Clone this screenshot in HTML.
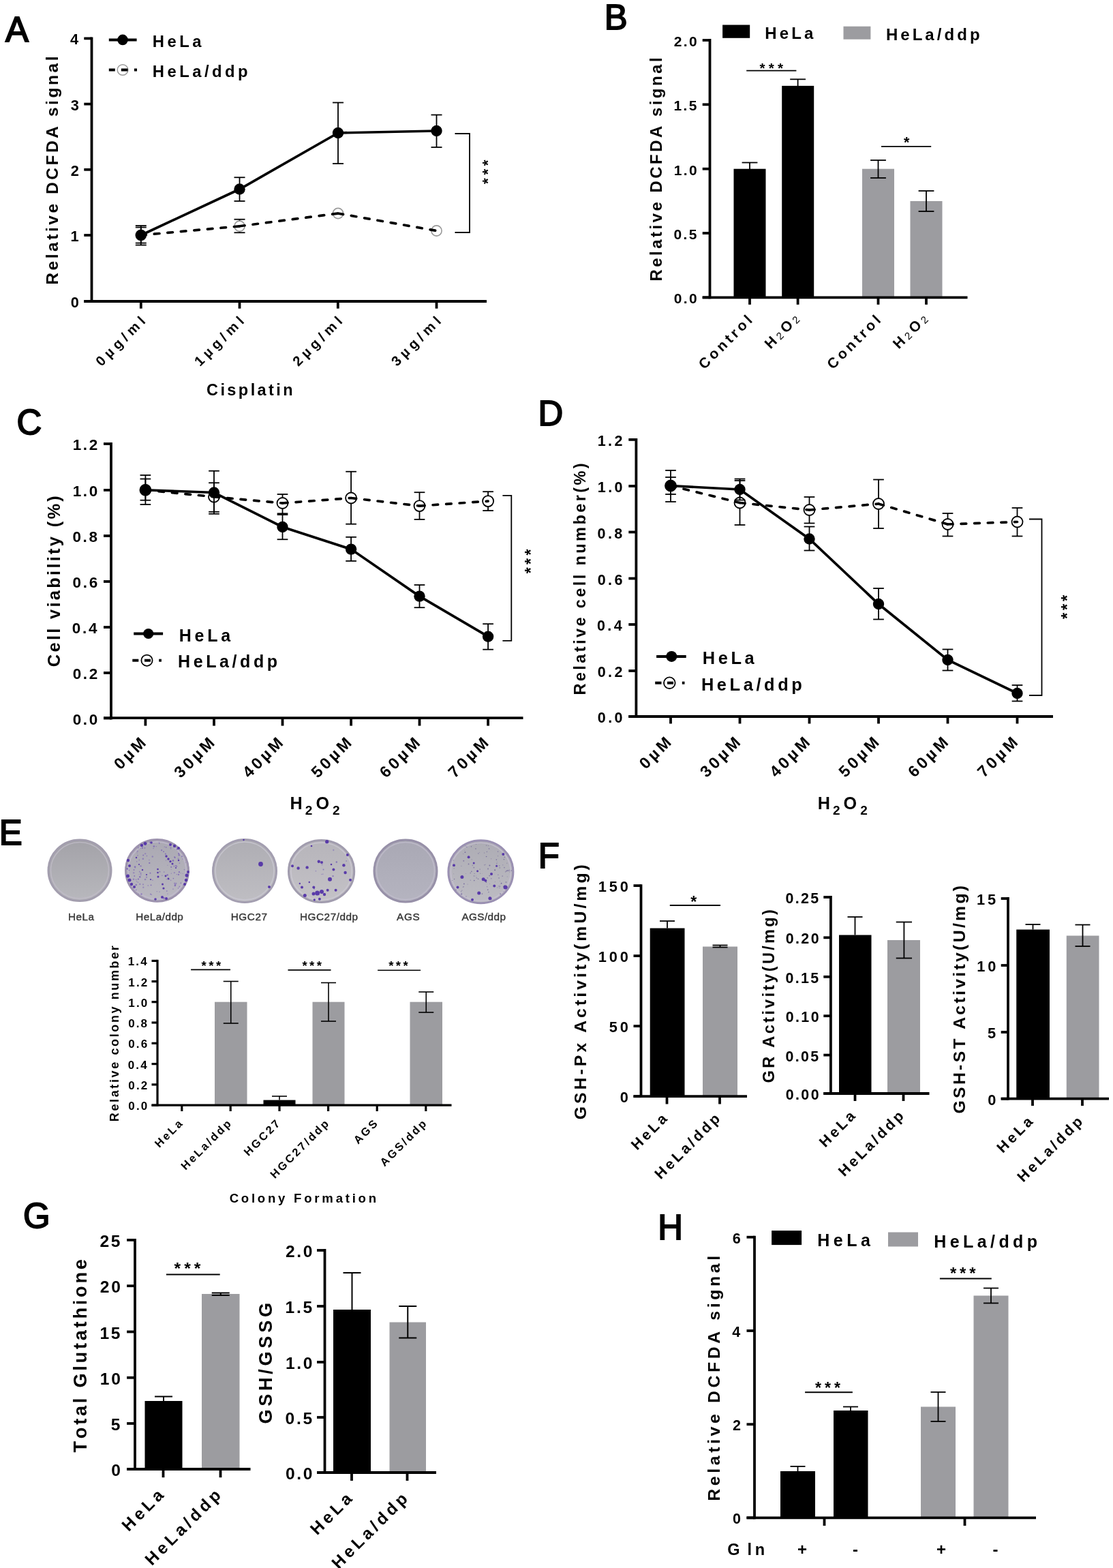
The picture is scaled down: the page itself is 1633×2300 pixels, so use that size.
<!DOCTYPE html>
<html><head><meta charset="utf-8"><title>Figure</title><style>html,body{margin:0;padding:0;background:#fff;}svg{display:block;}svg text{font-family:"Liberation Sans",Arial,Helvetica,sans-serif;font-weight:bold;fill:#000;font-kerning:none;}</style></head><body>
<svg width="1633" height="2300" viewBox="0 0 1633 2300">
<rect width="1633" height="2300" fill="#fff"/>
<text x="8.05" y="61.12" font-size="50.9" style="font-weight:normal" stroke="#000" stroke-width="1.9">A</text>
<line x1="134.5" y1="54.5" x2="134.5" y2="443.9" stroke="#000" stroke-width="3.8"/>
<line x1="123.3" y1="56.4" x2="134.5" y2="56.4" stroke="#000" stroke-width="3.8"/>
<line x1="123.3" y1="152.6" x2="134.5" y2="152.6" stroke="#000" stroke-width="3.8"/>
<line x1="123.3" y1="248.8" x2="134.5" y2="248.8" stroke="#000" stroke-width="3.8"/>
<line x1="123.3" y1="345" x2="134.5" y2="345" stroke="#000" stroke-width="3.8"/>
<line x1="123.3" y1="442" x2="134.5" y2="442" stroke="#000" stroke-width="3.8"/>
<text x="103.09" y="65.4" font-size="21.8" letter-spacing="2.5">4</text>
<text x="103.76" y="161.6" font-size="21.8" letter-spacing="2.5">3</text>
<text x="103.85" y="257.8" font-size="21.8" letter-spacing="2.5">2</text>
<text x="103.59" y="354" font-size="21.8" letter-spacing="2.5">1</text>
<text x="103.87" y="451" font-size="21.8" letter-spacing="2.5">0</text>
<line x1="123.3" y1="442" x2="714" y2="442" stroke="#000" stroke-width="3.8"/>
<line x1="206.8" y1="442" x2="206.8" y2="452.6" stroke="#000" stroke-width="3.8"/>
<line x1="351.5" y1="442" x2="351.5" y2="452.6" stroke="#000" stroke-width="3.8"/>
<line x1="495.8" y1="442" x2="495.8" y2="452.6" stroke="#000" stroke-width="3.8"/>
<line x1="640.5" y1="442" x2="640.5" y2="452.6" stroke="#000" stroke-width="3.8"/>
<text x="148.75" y="538.25" font-size="20.3" transform="rotate(-45 148.75 538.25)" letter-spacing="5.66">0µg/ml</text>
<text x="293.45" y="538.25" font-size="20.3" transform="rotate(-45 293.45 538.25)" letter-spacing="5.66">1µg/ml</text>
<text x="437.75" y="538.25" font-size="20.3" transform="rotate(-45 437.75 538.25)" letter-spacing="5.66">2µg/ml</text>
<text x="582.45" y="538.25" font-size="20.3" transform="rotate(-45 582.45 538.25)" letter-spacing="5.66">3µg/ml</text>
<text x="303.04" y="579.8" font-size="23.5" letter-spacing="3.42">Cisplatin</text>
<text x="85.4" y="417.65" font-size="24.6" transform="rotate(-90 85.4 417.65)" letter-spacing="3.5">Relative DCFDA signal</text>
<line x1="351.5" y1="321.75" x2="351.5" y2="341.25" stroke="#000" stroke-width="1.8"/>
<line x1="343.5" y1="321.75" x2="359.5" y2="321.75" stroke="#000" stroke-width="1.8"/>
<line x1="343.5" y1="341.25" x2="359.5" y2="341.25" stroke="#000" stroke-width="1.8"/>
<line x1="206.8" y1="333.5" x2="206.8" y2="356.5" stroke="#000" stroke-width="1.8"/>
<line x1="198.8" y1="333.5" x2="214.8" y2="333.5" stroke="#000" stroke-width="1.8"/>
<line x1="198.8" y1="356.5" x2="214.8" y2="356.5" stroke="#000" stroke-width="1.8"/>
<circle cx="206.8" cy="345" r="7.6" fill="#fff" stroke="#9a9a9a" stroke-width="1.6"/>
<circle cx="351.5" cy="331.75" r="7.6" fill="#fff" stroke="#9a9a9a" stroke-width="1.6"/>
<circle cx="496" cy="313" r="7.6" fill="#fff" stroke="#9a9a9a" stroke-width="1.6"/>
<circle cx="640.5" cy="338.5" r="7.6" fill="#fff" stroke="#9a9a9a" stroke-width="1.6"/>
<line x1="206.8" y1="345" x2="351.5" y2="331.75" stroke="#000" stroke-width="3.7" stroke-dasharray="7.6 12" stroke-linecap="round"/>
<line x1="351.5" y1="331.75" x2="496" y2="313" stroke="#000" stroke-width="3.7" stroke-dasharray="7.6 12" stroke-linecap="round"/>
<line x1="496" y1="313" x2="640.5" y2="338.5" stroke="#000" stroke-width="3.7" stroke-dasharray="7.6 12" stroke-linecap="round"/>
<polyline points="206.8,345 351.5,277.5 496,195 640.5,192" fill="none" stroke="#000" stroke-width="3.7"/>
<line x1="206.8" y1="331" x2="206.8" y2="359.5" stroke="#000" stroke-width="1.8"/>
<line x1="198.8" y1="331" x2="214.8" y2="331" stroke="#000" stroke-width="1.8"/>
<line x1="198.8" y1="359.5" x2="214.8" y2="359.5" stroke="#000" stroke-width="1.8"/>
<circle cx="206.8" cy="345" r="8.2" fill="#000"/>
<line x1="351.5" y1="260.25" x2="351.5" y2="295" stroke="#000" stroke-width="1.8"/>
<line x1="343.5" y1="260.25" x2="359.5" y2="260.25" stroke="#000" stroke-width="1.8"/>
<line x1="343.5" y1="295" x2="359.5" y2="295" stroke="#000" stroke-width="1.8"/>
<circle cx="351.5" cy="277.5" r="8.2" fill="#000"/>
<line x1="496" y1="150.5" x2="496" y2="240" stroke="#000" stroke-width="1.8"/>
<line x1="488" y1="150.5" x2="504" y2="150.5" stroke="#000" stroke-width="1.8"/>
<line x1="488" y1="240" x2="504" y2="240" stroke="#000" stroke-width="1.8"/>
<circle cx="496" cy="195" r="8.2" fill="#000"/>
<line x1="640.5" y1="168.5" x2="640.5" y2="216" stroke="#000" stroke-width="1.8"/>
<line x1="632.5" y1="168.5" x2="648.5" y2="168.5" stroke="#000" stroke-width="1.8"/>
<line x1="632.5" y1="216" x2="648.5" y2="216" stroke="#000" stroke-width="1.8"/>
<circle cx="640.5" cy="192" r="8.2" fill="#000"/>
<line x1="159.8" y1="58.4" x2="200.6" y2="58.4" stroke="#000" stroke-width="4"/>
<circle cx="180" cy="58.4" r="7.8" fill="#000"/>
<text x="223.81" y="69" font-size="23.8" letter-spacing="4.49">HeLa</text>
<circle cx="180" cy="102.5" r="7.8" fill="#fff" stroke="#9a9a9a" stroke-width="1.5"/>
<line x1="159.8" y1="102.5" x2="168.8" y2="102.5" stroke="#000" stroke-width="4"/>
<line x1="177.8" y1="102.5" x2="187.5" y2="102.5" stroke="#000" stroke-width="4"/>
<line x1="196.9" y1="102.5" x2="201" y2="102.5" stroke="#000" stroke-width="4"/>
<text x="223.81" y="113.3" font-size="23.8" letter-spacing="4.49">HeLa/ddp</text>
<polyline points="667.5,196 689,196 689,341 667.5,341" fill="none" stroke="#000" stroke-width="1.8"/>
<text x="722.85" y="269.97" font-size="22.31" transform="rotate(-90 722.85 269.97)" letter-spacing="4.72">***</text>
<text x="886.68" y="43.42" font-size="50.9" style="font-weight:normal" stroke="#000" stroke-width="1.9">B</text>
<line x1="1041.5" y1="57.1" x2="1041.5" y2="438.2" stroke="#000" stroke-width="3.8"/>
<line x1="1030.7" y1="59" x2="1041.5" y2="59" stroke="#000" stroke-width="3.8"/>
<line x1="1030.7" y1="153.3" x2="1041.5" y2="153.3" stroke="#000" stroke-width="3.8"/>
<line x1="1030.7" y1="247.7" x2="1041.5" y2="247.7" stroke="#000" stroke-width="3.8"/>
<line x1="1030.7" y1="342" x2="1041.5" y2="342" stroke="#000" stroke-width="3.8"/>
<line x1="1030.7" y1="436.3" x2="1041.5" y2="436.3" stroke="#000" stroke-width="3.8"/>
<text x="988.67" y="68.1" font-size="21" letter-spacing="2.45">2.0</text>
<text x="988.4" y="162.4" font-size="21" letter-spacing="2.45">1.5</text>
<text x="988.67" y="256.8" font-size="21" letter-spacing="2.45">1.0</text>
<text x="988.4" y="351.1" font-size="21" letter-spacing="2.45">0.5</text>
<text x="988.67" y="445.4" font-size="21" letter-spacing="2.45">0.0</text>
<rect x="1076.5" y="247.7" width="47" height="188.6" fill="#000"/>
<rect x="1147.2" y="125.9" width="47" height="310.4" fill="#000"/>
<rect x="1265" y="247.7" width="47" height="188.6" fill="#9c9ca0"/>
<rect x="1335.5" y="295" width="47" height="141.3" fill="#9c9ca0"/>
<line x1="1030.7" y1="436.3" x2="1419.5" y2="436.3" stroke="#000" stroke-width="3.8"/>
<line x1="1100" y1="436.3" x2="1100" y2="446.8" stroke="#000" stroke-width="3.8"/>
<line x1="1170.6" y1="436.3" x2="1170.6" y2="446.8" stroke="#000" stroke-width="3.8"/>
<line x1="1288.5" y1="436.3" x2="1288.5" y2="446.8" stroke="#000" stroke-width="3.8"/>
<line x1="1359" y1="436.3" x2="1359" y2="446.8" stroke="#000" stroke-width="3.8"/>
<line x1="1100" y1="238.5" x2="1100" y2="248" stroke="#000" stroke-width="1.8"/>
<line x1="1088.6" y1="238.5" x2="1111.4" y2="238.5" stroke="#000" stroke-width="1.8"/>
<line x1="1170.6" y1="116.3" x2="1170.6" y2="126" stroke="#000" stroke-width="1.8"/>
<line x1="1159.2" y1="116.3" x2="1182" y2="116.3" stroke="#000" stroke-width="1.8"/>
<line x1="1288.5" y1="235" x2="1288.5" y2="261" stroke="#000" stroke-width="1.8"/>
<line x1="1277.1" y1="235" x2="1299.9" y2="235" stroke="#000" stroke-width="1.8"/>
<line x1="1277.1" y1="261" x2="1299.9" y2="261" stroke="#000" stroke-width="1.8"/>
<line x1="1359" y1="280" x2="1359" y2="310" stroke="#000" stroke-width="1.8"/>
<line x1="1347.6" y1="280" x2="1370.4" y2="280" stroke="#000" stroke-width="1.8"/>
<line x1="1347.6" y1="310" x2="1370.4" y2="310" stroke="#000" stroke-width="1.8"/>
<line x1="1095.2" y1="103.7" x2="1168.4" y2="103.7" stroke="#000" stroke-width="1.8"/>
<text x="1114.54" y="106.54" font-size="20.7" letter-spacing="5.16">***</text>
<line x1="1293" y1="214.8" x2="1366.2" y2="214.8" stroke="#000" stroke-width="1.8"/>
<text x="1325.94" y="215.9" font-size="21.51">*</text>
<rect x="1060.1" y="36.5" width="40.1" height="19.3" fill="#000"/>
<text x="1122.29" y="56.8" font-size="24" letter-spacing="4.13">HeLa</text>
<rect x="1237.5" y="38.7" width="39.9" height="19" fill="#9c9ca0"/>
<text x="1299.89" y="58.6" font-size="24" letter-spacing="4.05">HeLa/ddp</text>
<text x="970.7" y="412.51" font-size="24" transform="rotate(-90 970.7 412.51)" letter-spacing="3.47">Relative DCFDA signal</text>
<text x="1033.39" y="542.74" font-size="21.2" transform="rotate(-45 1033.39 542.74)" letter-spacing="4.32">Control</text>
<text x="1221.89" y="542.74" font-size="21.2" transform="rotate(-45 1221.89 542.74)" letter-spacing="4.32">Control</text>
<text x="1130.48" y="512.66" font-size="21.2" transform="rotate(-45 1130.48 512.66)" letter-spacing="4.32">H<tspan font-size="15" font-weight="normal" dy="0.8">2</tspan><tspan dy="-0.8">O</tspan><tspan font-size="15" font-weight="normal" dy="0.8">2</tspan></text>
<text x="1318.88" y="512.66" font-size="21.2" transform="rotate(-45 1318.88 512.66)" letter-spacing="4.32">H<tspan font-size="15" font-weight="normal" dy="0.8">2</tspan><tspan dy="-0.8">O</tspan><tspan font-size="15" font-weight="normal" dy="0.8">2</tspan></text>
<text x="24.45" y="636.52" font-size="50.9" style="font-weight:normal" stroke="#000" stroke-width="1.9">C</text>
<line x1="163" y1="649.1" x2="163" y2="1055.4" stroke="#000" stroke-width="3.8"/>
<line x1="152" y1="651" x2="163" y2="651" stroke="#000" stroke-width="3.8"/>
<line x1="152" y1="718.9" x2="163" y2="718.9" stroke="#000" stroke-width="3.8"/>
<line x1="152" y1="786" x2="163" y2="786" stroke="#000" stroke-width="3.8"/>
<line x1="152" y1="853" x2="163" y2="853" stroke="#000" stroke-width="3.8"/>
<line x1="152" y1="920" x2="163" y2="920" stroke="#000" stroke-width="3.8"/>
<line x1="152" y1="987" x2="163" y2="987" stroke="#000" stroke-width="3.8"/>
<line x1="152" y1="1053.5" x2="163" y2="1053.5" stroke="#000" stroke-width="3.8"/>
<text x="106.63" y="660" font-size="22.5" letter-spacing="2.7">1.2</text>
<text x="106.65" y="727.9" font-size="22.5" letter-spacing="2.7">1.0</text>
<text x="106.42" y="795" font-size="22.5" letter-spacing="2.7">0.8</text>
<text x="106.54" y="862" font-size="22.5" letter-spacing="2.7">0.6</text>
<text x="105.84" y="929" font-size="22.5" letter-spacing="2.7">0.4</text>
<text x="106.63" y="996" font-size="22.5" letter-spacing="2.7">0.2</text>
<text x="106.65" y="1062.5" font-size="22.5" letter-spacing="2.7">0.0</text>
<line x1="152" y1="1053.2" x2="767.5" y2="1053.2" stroke="#000" stroke-width="3.8"/>
<line x1="213.4" y1="1053.2" x2="213.4" y2="1064.6" stroke="#000" stroke-width="3.8"/>
<line x1="314" y1="1053.2" x2="314" y2="1064.6" stroke="#000" stroke-width="3.8"/>
<line x1="414.5" y1="1053.2" x2="414.5" y2="1064.6" stroke="#000" stroke-width="3.8"/>
<line x1="515.1" y1="1053.2" x2="515.1" y2="1064.6" stroke="#000" stroke-width="3.8"/>
<line x1="615.5" y1="1053.2" x2="615.5" y2="1064.6" stroke="#000" stroke-width="3.8"/>
<line x1="716.1" y1="1053.2" x2="716.1" y2="1064.6" stroke="#000" stroke-width="3.8"/>
<text x="176.78" y="1129.99" font-size="23.5" transform="rotate(-45 176.78 1129.99)" letter-spacing="4.26">0µM</text>
<text x="265.13" y="1142.24" font-size="23.5" transform="rotate(-45 265.13 1142.24)" letter-spacing="4.26">30µM</text>
<text x="365.63" y="1142.24" font-size="23.5" transform="rotate(-45 365.63 1142.24)" letter-spacing="4.26">40µM</text>
<text x="466.23" y="1142.24" font-size="23.5" transform="rotate(-45 466.23 1142.24)" letter-spacing="4.26">50µM</text>
<text x="566.63" y="1142.24" font-size="23.5" transform="rotate(-45 566.63 1142.24)" letter-spacing="4.26">60µM</text>
<text x="667.23" y="1142.24" font-size="23.5" transform="rotate(-45 667.23 1142.24)" letter-spacing="4.26">70µM</text>
<text x="425.61" y="1186.8" font-size="25.2">H<tspan font-size="19" dx="4" dy="8.3">2</tspan><tspan dx="5" dy="-8.3">O</tspan><tspan font-size="19" dx="5" dy="8.3">2</tspan></text>
<text x="87.8" y="978.15" font-size="25.5" transform="rotate(-90 87.8 978.15)" letter-spacing="3.26">Cell viability (%)</text>
<line x1="213.4" y1="702.5" x2="213.4" y2="733.75" stroke="#000" stroke-width="1.8"/>
<line x1="205.55" y1="702.5" x2="221.25" y2="702.5" stroke="#000" stroke-width="1.8"/>
<line x1="205.55" y1="733.75" x2="221.25" y2="733.75" stroke="#000" stroke-width="1.8"/>
<line x1="314" y1="708.25" x2="314" y2="750.75" stroke="#000" stroke-width="1.8"/>
<line x1="306.15" y1="708.25" x2="321.85" y2="708.25" stroke="#000" stroke-width="1.8"/>
<line x1="306.15" y1="750.75" x2="321.85" y2="750.75" stroke="#000" stroke-width="1.8"/>
<line x1="414.5" y1="725" x2="414.5" y2="753.25" stroke="#000" stroke-width="1.8"/>
<line x1="406.65" y1="725" x2="422.35" y2="725" stroke="#000" stroke-width="1.8"/>
<line x1="406.65" y1="753.25" x2="422.35" y2="753.25" stroke="#000" stroke-width="1.8"/>
<line x1="515.1" y1="691.75" x2="515.1" y2="768.7" stroke="#000" stroke-width="1.8"/>
<line x1="507.25" y1="691.75" x2="522.95" y2="691.75" stroke="#000" stroke-width="1.8"/>
<line x1="507.25" y1="768.7" x2="522.95" y2="768.7" stroke="#000" stroke-width="1.8"/>
<line x1="615.5" y1="722.2" x2="615.5" y2="761.9" stroke="#000" stroke-width="1.8"/>
<line x1="607.65" y1="722.2" x2="623.35" y2="722.2" stroke="#000" stroke-width="1.8"/>
<line x1="607.65" y1="761.9" x2="623.35" y2="761.9" stroke="#000" stroke-width="1.8"/>
<line x1="716.1" y1="721.2" x2="716.1" y2="749" stroke="#000" stroke-width="1.8"/>
<line x1="708.25" y1="721.2" x2="723.95" y2="721.2" stroke="#000" stroke-width="1.8"/>
<line x1="708.25" y1="749" x2="723.95" y2="749" stroke="#000" stroke-width="1.8"/>
<circle cx="213.4" cy="718.75" r="8" fill="#fff" stroke="#000" stroke-width="1.8"/>
<circle cx="314" cy="728.75" r="8" fill="#fff" stroke="#000" stroke-width="1.8"/>
<circle cx="414.5" cy="738" r="8" fill="#fff" stroke="#000" stroke-width="1.8"/>
<circle cx="515.1" cy="730.5" r="8" fill="#fff" stroke="#000" stroke-width="1.8"/>
<circle cx="615.5" cy="742.1" r="8" fill="#fff" stroke="#000" stroke-width="1.8"/>
<circle cx="716.1" cy="735.1" r="8" fill="#fff" stroke="#000" stroke-width="1.8"/>
<line x1="213.4" y1="718.75" x2="314" y2="728.75" stroke="#000" stroke-width="3.7" stroke-dasharray="7.6 12" stroke-linecap="round"/>
<line x1="314" y1="728.75" x2="414.5" y2="738" stroke="#000" stroke-width="3.7" stroke-dasharray="7.6 12" stroke-linecap="round"/>
<line x1="414.5" y1="738" x2="515.1" y2="730.5" stroke="#000" stroke-width="3.7" stroke-dasharray="7.6 12" stroke-linecap="round"/>
<line x1="515.1" y1="730.5" x2="615.5" y2="742.1" stroke="#000" stroke-width="3.7" stroke-dasharray="7.6 12" stroke-linecap="round"/>
<line x1="615.5" y1="742.1" x2="716.1" y2="735.1" stroke="#000" stroke-width="3.7" stroke-dasharray="7.6 12" stroke-linecap="round"/>
<polyline points="213.4,718.75 314,722.5 414.5,773 515.1,805.6 615.5,874.6 716.1,933.7" fill="none" stroke="#000" stroke-width="3.7"/>
<line x1="213.4" y1="697" x2="213.4" y2="740" stroke="#000" stroke-width="1.8"/>
<line x1="205.55" y1="697" x2="221.25" y2="697" stroke="#000" stroke-width="1.8"/>
<line x1="205.55" y1="740" x2="221.25" y2="740" stroke="#000" stroke-width="1.8"/>
<circle cx="213.4" cy="718.75" r="8.2" fill="#000"/>
<line x1="314" y1="690.75" x2="314" y2="753.75" stroke="#000" stroke-width="1.8"/>
<line x1="306.15" y1="690.75" x2="321.85" y2="690.75" stroke="#000" stroke-width="1.8"/>
<line x1="306.15" y1="753.75" x2="321.85" y2="753.75" stroke="#000" stroke-width="1.8"/>
<circle cx="314" cy="722.5" r="8.2" fill="#000"/>
<line x1="414.5" y1="755" x2="414.5" y2="791.25" stroke="#000" stroke-width="1.8"/>
<line x1="406.65" y1="755" x2="422.35" y2="755" stroke="#000" stroke-width="1.8"/>
<line x1="406.65" y1="791.25" x2="422.35" y2="791.25" stroke="#000" stroke-width="1.8"/>
<circle cx="414.5" cy="773" r="8.2" fill="#000"/>
<line x1="515.1" y1="787.8" x2="515.1" y2="822.9" stroke="#000" stroke-width="1.8"/>
<line x1="507.25" y1="787.8" x2="522.95" y2="787.8" stroke="#000" stroke-width="1.8"/>
<line x1="507.25" y1="822.9" x2="522.95" y2="822.9" stroke="#000" stroke-width="1.8"/>
<circle cx="515.1" cy="805.6" r="8.2" fill="#000"/>
<line x1="615.5" y1="858" x2="615.5" y2="891.2" stroke="#000" stroke-width="1.8"/>
<line x1="607.65" y1="858" x2="623.35" y2="858" stroke="#000" stroke-width="1.8"/>
<line x1="607.65" y1="891.2" x2="623.35" y2="891.2" stroke="#000" stroke-width="1.8"/>
<circle cx="615.5" cy="874.6" r="8.2" fill="#000"/>
<line x1="716.1" y1="915.2" x2="716.1" y2="952.7" stroke="#000" stroke-width="1.8"/>
<line x1="708.25" y1="915.2" x2="723.95" y2="915.2" stroke="#000" stroke-width="1.8"/>
<line x1="708.25" y1="952.7" x2="723.95" y2="952.7" stroke="#000" stroke-width="1.8"/>
<circle cx="716.1" cy="933.7" r="8.2" fill="#000"/>
<line x1="196.2" y1="929.5" x2="239.1" y2="929.5" stroke="#000" stroke-width="4"/>
<circle cx="217.7" cy="929.5" r="7.6" fill="#000"/>
<text x="262.82" y="940.6" font-size="25" letter-spacing="4.73">HeLa</text>
<circle cx="215.5" cy="968.7" r="8.1" fill="#fff" stroke="#000" stroke-width="1.8"/>
<line x1="194.3" y1="968.7" x2="203.3" y2="968.7" stroke="#000" stroke-width="4"/>
<line x1="212" y1="968.7" x2="221" y2="968.7" stroke="#000" stroke-width="4"/>
<line x1="233.2" y1="968.7" x2="236.9" y2="968.7" stroke="#000" stroke-width="4"/>
<text x="261.02" y="979" font-size="25" letter-spacing="4.59">HeLa/ddp</text>
<polyline points="737.4,726.8 750.3,726.8 750.3,939.8 737.4,939.8" fill="none" stroke="#000" stroke-width="1.8"/>
<text x="786.69" y="841.37" font-size="23.39" transform="rotate(-90 786.69 841.37)" letter-spacing="4.4">***</text>
<text x="789.58" y="624.42" font-size="50.9" style="font-weight:normal" stroke="#000" stroke-width="1.9">D</text>
<line x1="933.4" y1="643" x2="933.4" y2="1052.9" stroke="#000" stroke-width="3.8"/>
<line x1="922.3" y1="644.9" x2="933.4" y2="644.9" stroke="#000" stroke-width="3.8"/>
<line x1="922.3" y1="713" x2="933.4" y2="713" stroke="#000" stroke-width="3.8"/>
<line x1="922.3" y1="780.5" x2="933.4" y2="780.5" stroke="#000" stroke-width="3.8"/>
<line x1="922.3" y1="848.5" x2="933.4" y2="848.5" stroke="#000" stroke-width="3.8"/>
<line x1="922.3" y1="916" x2="933.4" y2="916" stroke="#000" stroke-width="3.8"/>
<line x1="922.3" y1="984" x2="933.4" y2="984" stroke="#000" stroke-width="3.8"/>
<line x1="922.3" y1="1051" x2="933.4" y2="1051" stroke="#000" stroke-width="3.8"/>
<text x="876.78" y="653.9" font-size="21.5" letter-spacing="3.4">1.2</text>
<text x="876.8" y="722" font-size="21.5" letter-spacing="3.4">1.0</text>
<text x="876.58" y="789.5" font-size="21.5" letter-spacing="3.4">0.8</text>
<text x="876.69" y="857.5" font-size="21.5" letter-spacing="3.4">0.6</text>
<text x="876.02" y="925" font-size="21.5" letter-spacing="3.4">0.4</text>
<text x="876.78" y="993" font-size="21.5" letter-spacing="3.4">0.2</text>
<text x="876.8" y="1060" font-size="21.5" letter-spacing="3.4">0.0</text>
<line x1="922.3" y1="1051" x2="1545" y2="1051" stroke="#000" stroke-width="3.8"/>
<line x1="984" y1="1051" x2="984" y2="1061.5" stroke="#000" stroke-width="3.8"/>
<line x1="1085.5" y1="1051" x2="1085.5" y2="1061.5" stroke="#000" stroke-width="3.8"/>
<line x1="1187.5" y1="1051" x2="1187.5" y2="1061.5" stroke="#000" stroke-width="3.8"/>
<line x1="1289" y1="1051" x2="1289" y2="1061.5" stroke="#000" stroke-width="3.8"/>
<line x1="1390.5" y1="1051" x2="1390.5" y2="1061.5" stroke="#000" stroke-width="3.8"/>
<line x1="1492.5" y1="1051" x2="1492.5" y2="1061.5" stroke="#000" stroke-width="3.8"/>
<text x="947.48" y="1129.29" font-size="23.5" transform="rotate(-45 947.48 1129.29)" letter-spacing="4.26">0µM</text>
<text x="1036.73" y="1141.54" font-size="23.5" transform="rotate(-45 1036.73 1141.54)" letter-spacing="4.26">30µM</text>
<text x="1138.73" y="1141.54" font-size="23.5" transform="rotate(-45 1138.73 1141.54)" letter-spacing="4.26">40µM</text>
<text x="1240.23" y="1141.54" font-size="23.5" transform="rotate(-45 1240.23 1141.54)" letter-spacing="4.26">50µM</text>
<text x="1341.73" y="1141.54" font-size="23.5" transform="rotate(-45 1341.73 1141.54)" letter-spacing="4.26">60µM</text>
<text x="1443.73" y="1141.54" font-size="23.5" transform="rotate(-45 1443.73 1141.54)" letter-spacing="4.26">70µM</text>
<text x="1199.81" y="1186.8" font-size="25.2">H<tspan font-size="19" dx="4" dy="8.3">2</tspan><tspan dx="5" dy="-8.3">O</tspan><tspan font-size="19" dx="5" dy="8.3">2</tspan></text>
<text x="858.8" y="1019.58" font-size="23.6" transform="rotate(-90 858.8 1019.58)" letter-spacing="3.37">Relative cell number(%)</text>
<line x1="984" y1="700" x2="984" y2="725" stroke="#000" stroke-width="1.8"/>
<line x1="976.15" y1="700" x2="991.85" y2="700" stroke="#000" stroke-width="1.8"/>
<line x1="976.15" y1="725" x2="991.85" y2="725" stroke="#000" stroke-width="1.8"/>
<line x1="1085.5" y1="705" x2="1085.5" y2="770" stroke="#000" stroke-width="1.8"/>
<line x1="1077.65" y1="705" x2="1093.35" y2="705" stroke="#000" stroke-width="1.8"/>
<line x1="1077.65" y1="770" x2="1093.35" y2="770" stroke="#000" stroke-width="1.8"/>
<line x1="1187.5" y1="729" x2="1187.5" y2="767.5" stroke="#000" stroke-width="1.8"/>
<line x1="1179.65" y1="729" x2="1195.35" y2="729" stroke="#000" stroke-width="1.8"/>
<line x1="1179.65" y1="767.5" x2="1195.35" y2="767.5" stroke="#000" stroke-width="1.8"/>
<line x1="1289" y1="703.5" x2="1289" y2="775" stroke="#000" stroke-width="1.8"/>
<line x1="1281.15" y1="703.5" x2="1296.85" y2="703.5" stroke="#000" stroke-width="1.8"/>
<line x1="1281.15" y1="775" x2="1296.85" y2="775" stroke="#000" stroke-width="1.8"/>
<line x1="1390.5" y1="753" x2="1390.5" y2="786.5" stroke="#000" stroke-width="1.8"/>
<line x1="1382.65" y1="753" x2="1398.35" y2="753" stroke="#000" stroke-width="1.8"/>
<line x1="1382.65" y1="786.5" x2="1398.35" y2="786.5" stroke="#000" stroke-width="1.8"/>
<line x1="1492.5" y1="745" x2="1492.5" y2="786.5" stroke="#000" stroke-width="1.8"/>
<line x1="1484.65" y1="745" x2="1500.35" y2="745" stroke="#000" stroke-width="1.8"/>
<line x1="1484.65" y1="786.5" x2="1500.35" y2="786.5" stroke="#000" stroke-width="1.8"/>
<circle cx="984" cy="712.5" r="8" fill="#fff" stroke="#000" stroke-width="1.8"/>
<circle cx="1085.5" cy="737.5" r="8" fill="#fff" stroke="#000" stroke-width="1.8"/>
<circle cx="1187.5" cy="748" r="8" fill="#fff" stroke="#000" stroke-width="1.8"/>
<circle cx="1289" cy="739" r="8" fill="#fff" stroke="#000" stroke-width="1.8"/>
<circle cx="1390.5" cy="769" r="8" fill="#fff" stroke="#000" stroke-width="1.8"/>
<circle cx="1492.5" cy="765.5" r="8" fill="#fff" stroke="#000" stroke-width="1.8"/>
<line x1="984" y1="712.5" x2="1085.5" y2="737.5" stroke="#000" stroke-width="3.7" stroke-dasharray="7.6 12" stroke-linecap="round"/>
<line x1="1085.5" y1="737.5" x2="1187.5" y2="748" stroke="#000" stroke-width="3.7" stroke-dasharray="7.6 12" stroke-linecap="round"/>
<line x1="1187.5" y1="748" x2="1289" y2="739" stroke="#000" stroke-width="3.7" stroke-dasharray="7.6 12" stroke-linecap="round"/>
<line x1="1289" y1="739" x2="1390.5" y2="769" stroke="#000" stroke-width="3.7" stroke-dasharray="7.6 12" stroke-linecap="round"/>
<line x1="1390.5" y1="769" x2="1492.5" y2="765.5" stroke="#000" stroke-width="3.7" stroke-dasharray="7.6 12" stroke-linecap="round"/>
<polyline points="984,712.5 1085.5,718 1187.5,790.5 1289,886 1390.5,968 1492.5,1017" fill="none" stroke="#000" stroke-width="3.7"/>
<line x1="984" y1="690" x2="984" y2="736" stroke="#000" stroke-width="1.8"/>
<line x1="976.15" y1="690" x2="991.85" y2="690" stroke="#000" stroke-width="1.8"/>
<line x1="976.15" y1="736" x2="991.85" y2="736" stroke="#000" stroke-width="1.8"/>
<circle cx="984" cy="712.5" r="8.2" fill="#000"/>
<line x1="1085.5" y1="702.5" x2="1085.5" y2="733.5" stroke="#000" stroke-width="1.8"/>
<line x1="1077.65" y1="702.5" x2="1093.35" y2="702.5" stroke="#000" stroke-width="1.8"/>
<line x1="1077.65" y1="733.5" x2="1093.35" y2="733.5" stroke="#000" stroke-width="1.8"/>
<circle cx="1085.5" cy="718" r="8.2" fill="#000"/>
<line x1="1187.5" y1="772.5" x2="1187.5" y2="807.5" stroke="#000" stroke-width="1.8"/>
<line x1="1179.65" y1="772.5" x2="1195.35" y2="772.5" stroke="#000" stroke-width="1.8"/>
<line x1="1179.65" y1="807.5" x2="1195.35" y2="807.5" stroke="#000" stroke-width="1.8"/>
<circle cx="1187.5" cy="790.5" r="8.2" fill="#000"/>
<line x1="1289" y1="863" x2="1289" y2="908.5" stroke="#000" stroke-width="1.8"/>
<line x1="1281.15" y1="863" x2="1296.85" y2="863" stroke="#000" stroke-width="1.8"/>
<line x1="1281.15" y1="908.5" x2="1296.85" y2="908.5" stroke="#000" stroke-width="1.8"/>
<circle cx="1289" cy="886" r="8.2" fill="#000"/>
<line x1="1390.5" y1="952.5" x2="1390.5" y2="983.5" stroke="#000" stroke-width="1.8"/>
<line x1="1382.65" y1="952.5" x2="1398.35" y2="952.5" stroke="#000" stroke-width="1.8"/>
<line x1="1382.65" y1="983.5" x2="1398.35" y2="983.5" stroke="#000" stroke-width="1.8"/>
<circle cx="1390.5" cy="968" r="8.2" fill="#000"/>
<line x1="1492.5" y1="1005" x2="1492.5" y2="1028.5" stroke="#000" stroke-width="1.8"/>
<line x1="1484.65" y1="1005" x2="1500.35" y2="1005" stroke="#000" stroke-width="1.8"/>
<line x1="1484.65" y1="1028.5" x2="1500.35" y2="1028.5" stroke="#000" stroke-width="1.8"/>
<circle cx="1492.5" cy="1017" r="8.2" fill="#000"/>
<line x1="963.1" y1="962.9" x2="1006.7" y2="962.9" stroke="#000" stroke-width="4"/>
<circle cx="985.3" cy="962.9" r="8" fill="#000"/>
<text x="1030.8" y="974" font-size="25.4" letter-spacing="4.58">HeLa</text>
<circle cx="982.3" cy="1001.7" r="8.3" fill="#fff" stroke="#000" stroke-width="1.8"/>
<line x1="961.2" y1="1001.7" x2="970.5" y2="1001.7" stroke="#000" stroke-width="4"/>
<line x1="979" y1="1001.7" x2="988" y2="1001.7" stroke="#000" stroke-width="4"/>
<line x1="1000.8" y1="1001.7" x2="1004.5" y2="1001.7" stroke="#000" stroke-width="4"/>
<text x="1028.9" y="1012.7" font-size="25.4" letter-spacing="4.6">HeLa/ddp</text>
<polyline points="1510,761.5 1528.5,761.5 1528.5,1020 1510,1020" fill="none" stroke="#000" stroke-width="1.8"/>
<text x="1573.98" y="908.07" font-size="23.66" transform="rotate(-90 1573.98 908.07)" letter-spacing="3.79">***</text>
<text x="-1.22" y="1239.33" font-size="50.9" style="font-weight:normal" stroke="#000" stroke-width="1.9">E</text>
<defs><filter id="blur1" x="-20%" y="-20%" width="140%" height="140%"><feGaussianBlur stdDeviation="0.7"/></filter><filter id="blur2" x="-20%" y="-20%" width="140%" height="140%"><feGaussianBlur stdDeviation="1.1"/></filter></defs>
<defs><linearGradient id="dg1" x1="0" y1="0" x2="0" y2="1"><stop offset="0" stop-color="#a3a2a8"/><stop offset="1" stop-color="#b8b8bd"/></linearGradient></defs>
<g filter="url(#blur1)">
<ellipse cx="117" cy="1276.75" rx="46" ry="44.75" fill="url(#dg1)" stroke="#a39eae" stroke-width="3"/>
<ellipse cx="117" cy="1276.75" rx="42.5" ry="41.25" fill="none" stroke="#c0bcc8" stroke-width="1.6" opacity="0.8"/>
</g>
<defs><linearGradient id="dg2" x1="0" y1="0" x2="0" y2="1"><stop offset="0" stop-color="#aaa8b2"/><stop offset="1" stop-color="#bab8c1"/></linearGradient></defs>
<g filter="url(#blur1)">
<ellipse cx="230.5" cy="1276.8" rx="46" ry="45.4" fill="url(#dg2)" stroke="#9d93ae" stroke-width="3"/>
<ellipse cx="230.5" cy="1276.8" rx="42.5" ry="41.9" fill="none" stroke="#c2bad0" stroke-width="1.6" opacity="0.8"/>
<circle cx="272.1" cy="1265.16" r="0.55" fill="#7a62b6" opacity="0.49"/>
<circle cx="250.5" cy="1243.65" r="1.04" fill="#7a62b6" opacity="0.59"/>
<circle cx="202.05" cy="1254.74" r="0.96" fill="#7a62b6" opacity="0.52"/>
<circle cx="202.92" cy="1289.47" r="1.08" fill="#7a62b6" opacity="0.9"/>
<circle cx="263.4" cy="1266.11" r="0.86" fill="#7a62b6" opacity="0.57"/>
<circle cx="240.72" cy="1279.12" r="0.87" fill="#7a62b6" opacity="0.59"/>
<circle cx="199.74" cy="1305.32" r="0.92" fill="#7a62b6" opacity="0.7"/>
<circle cx="231.36" cy="1286.55" r="0.76" fill="#7a62b6" opacity="0.51"/>
<circle cx="186.44" cy="1274" r="1.04" fill="#7a62b6" opacity="0.53"/>
<circle cx="262.15" cy="1252.11" r="1.09" fill="#7a62b6" opacity="0.86"/>
<circle cx="233.75" cy="1237.24" r="0.78" fill="#7a62b6" opacity="0.89"/>
<circle cx="251.18" cy="1271.82" r="1.1" fill="#7a62b6" opacity="0.77"/>
<circle cx="197.23" cy="1284.93" r="0.89" fill="#7a62b6" opacity="0.87"/>
<circle cx="189.47" cy="1276.59" r="0.78" fill="#7a62b6" opacity="0.85"/>
<circle cx="256.68" cy="1257.94" r="0.95" fill="#7a62b6" opacity="0.86"/>
<circle cx="225.07" cy="1244.54" r="0.68" fill="#7a62b6" opacity="0.6"/>
<circle cx="223.79" cy="1256.59" r="1.23" fill="#7a62b6" opacity="0.57"/>
<circle cx="253.96" cy="1262.38" r="1.27" fill="#7a62b6" opacity="0.77"/>
<circle cx="196.56" cy="1275.91" r="1.02" fill="#7a62b6" opacity="0.71"/>
<circle cx="221.57" cy="1298.33" r="0.91" fill="#7a62b6" opacity="0.87"/>
<circle cx="219.27" cy="1265.95" r="1.16" fill="#7a62b6" opacity="0.78"/>
<circle cx="249.57" cy="1264.46" r="1.1" fill="#7a62b6" opacity="0.48"/>
<circle cx="215.44" cy="1255.53" r="0.68" fill="#7a62b6" opacity="0.84"/>
<circle cx="257.25" cy="1297.63" r="1.18" fill="#7a62b6" opacity="0.56"/>
<circle cx="240.82" cy="1316.98" r="0.84" fill="#7a62b6" opacity="0.77"/>
<circle cx="259.34" cy="1282.58" r="0.64" fill="#7a62b6" opacity="0.75"/>
<circle cx="268.11" cy="1298.11" r="0.52" fill="#7a62b6" opacity="0.78"/>
<circle cx="255.88" cy="1280.15" r="1.15" fill="#7a62b6" opacity="0.52"/>
<circle cx="245.91" cy="1311.22" r="0.81" fill="#7a62b6" opacity="0.47"/>
<circle cx="251.22" cy="1275.51" r="0.53" fill="#7a62b6" opacity="0.6"/>
<circle cx="201.12" cy="1251.15" r="0.59" fill="#7a62b6" opacity="0.6"/>
<circle cx="261.96" cy="1282.89" r="1.11" fill="#7a62b6" opacity="0.78"/>
<circle cx="262.74" cy="1254.28" r="1.19" fill="#7a62b6" opacity="0.77"/>
<circle cx="206.51" cy="1280.89" r="1.03" fill="#7a62b6" opacity="0.59"/>
<circle cx="256.17" cy="1295.72" r="1.2" fill="#7a62b6" opacity="0.51"/>
<circle cx="204.33" cy="1261.53" r="0.91" fill="#7a62b6" opacity="0.51"/>
<circle cx="255.42" cy="1270.44" r="0.98" fill="#7a62b6" opacity="0.64"/>
<circle cx="265.26" cy="1280.7" r="0.61" fill="#7a62b6" opacity="0.48"/>
<circle cx="251.31" cy="1281.2" r="0.58" fill="#7a62b6" opacity="0.74"/>
<circle cx="186.68" cy="1274.55" r="1.25" fill="#7a62b6" opacity="0.9"/>
<circle cx="234.01" cy="1308.15" r="0.7" fill="#7a62b6" opacity="0.72"/>
<circle cx="201.78" cy="1248.74" r="1.07" fill="#7a62b6" opacity="0.57"/>
<circle cx="200.25" cy="1292.49" r="0.5" fill="#7a62b6" opacity="0.47"/>
<circle cx="215.09" cy="1286.63" r="1.08" fill="#7a62b6" opacity="0.56"/>
<circle cx="248.59" cy="1289.74" r="0.69" fill="#7a62b6" opacity="0.55"/>
<circle cx="198.27" cy="1272.63" r="0.75" fill="#7a62b6" opacity="0.74"/>
<circle cx="240.43" cy="1317.58" r="1.27" fill="#7a62b6" opacity="0.78"/>
<circle cx="199.6" cy="1290.29" r="0.96" fill="#7a62b6" opacity="0.47"/>
<circle cx="200.79" cy="1293.41" r="0.64" fill="#7a62b6" opacity="0.49"/>
<circle cx="240.1" cy="1249.2" r="0.92" fill="#7a62b6" opacity="0.86"/>
<circle cx="209.82" cy="1259.8" r="1.29" fill="#7a62b6" opacity="0.62"/>
<circle cx="268.21" cy="1281.28" r="0.58" fill="#7a62b6" opacity="0.59"/>
<circle cx="250.82" cy="1245.45" r="0.51" fill="#7a62b6" opacity="0.65"/>
<circle cx="202.48" cy="1294.19" r="0.67" fill="#7a62b6" opacity="0.71"/>
<circle cx="254.39" cy="1288.6" r="0.8" fill="#7a62b6" opacity="0.87"/>
<circle cx="265.5" cy="1294.83" r="0.65" fill="#7a62b6" opacity="0.71"/>
<circle cx="205.25" cy="1296.96" r="1.1" fill="#7a62b6" opacity="0.63"/>
<circle cx="244.23" cy="1289.81" r="0.56" fill="#7a62b6" opacity="0.83"/>
<circle cx="203.01" cy="1243.57" r="1.05" fill="#7a62b6" opacity="0.46"/>
<circle cx="208.92" cy="1243.62" r="1.08" fill="#7a62b6" opacity="0.67"/>
<circle cx="210.29" cy="1301.68" r="1.14" fill="#7a62b6" opacity="0.57"/>
<circle cx="198.08" cy="1271.46" r="1.26" fill="#7a62b6" opacity="0.81"/>
<circle cx="267.93" cy="1259.99" r="0.74" fill="#7a62b6" opacity="0.55"/>
<circle cx="204.81" cy="1278.59" r="0.84" fill="#7a62b6" opacity="0.76"/>
<circle cx="261.6" cy="1259.56" r="1.15" fill="#7a62b6" opacity="0.49"/>
<circle cx="203.22" cy="1311.05" r="0.62" fill="#7a62b6" opacity="0.64"/>
<circle cx="245.63" cy="1283.47" r="1.22" fill="#7a62b6" opacity="0.89"/>
<circle cx="218.88" cy="1261.41" r="0.74" fill="#7a62b6" opacity="0.55"/>
<circle cx="212.4" cy="1243.94" r="0.85" fill="#7a62b6" opacity="0.69"/>
<circle cx="256.83" cy="1298.88" r="1.26" fill="#7a62b6" opacity="0.79"/>
<circle cx="258.41" cy="1295.82" r="1.07" fill="#7a62b6" opacity="0.57"/>
<circle cx="256.09" cy="1257.17" r="1.06" fill="#7a62b6" opacity="0.63"/>
<circle cx="270.53" cy="1275.59" r="0.96" fill="#7a62b6" opacity="0.52"/>
<circle cx="220.45" cy="1280.64" r="0.98" fill="#7a62b6" opacity="0.85"/>
<circle cx="244.79" cy="1306.99" r="0.89" fill="#7a62b6" opacity="0.63"/>
<circle cx="219.92" cy="1235.61" r="1.06" fill="#7a62b6" opacity="0.66"/>
<circle cx="258.07" cy="1270.17" r="1.1" fill="#7a62b6" opacity="0.75"/>
<circle cx="233.52" cy="1236" r="0.68" fill="#7a62b6" opacity="0.73"/>
<circle cx="199.73" cy="1298.09" r="1.28" fill="#7a62b6" opacity="0.74"/>
<circle cx="262.92" cy="1279.14" r="1.07" fill="#7a62b6" opacity="0.85"/>
<circle cx="206.58" cy="1244.26" r="0.51" fill="#7a62b6" opacity="0.87"/>
<circle cx="225.85" cy="1241.39" r="1.22" fill="#7a62b6" opacity="0.85"/>
<circle cx="263.37" cy="1300.52" r="1.11" fill="#7a62b6" opacity="0.54"/>
<circle cx="229.21" cy="1241.6" r="0.65" fill="#7a62b6" opacity="0.81"/>
<circle cx="254.01" cy="1304.11" r="0.85" fill="#7a62b6" opacity="0.56"/>
<circle cx="200.69" cy="1263.82" r="0.66" fill="#7a62b6" opacity="0.89"/>
<circle cx="234.4" cy="1278.7" r="0.89" fill="#7a62b6" opacity="0.83"/>
<circle cx="209.02" cy="1244.11" r="0.89" fill="#7a62b6" opacity="0.75"/>
<circle cx="217.26" cy="1298.94" r="0.9" fill="#7a62b6" opacity="0.46"/>
<circle cx="265.1" cy="1295.53" r="0.64" fill="#7a62b6" opacity="0.79"/>
<circle cx="237.09" cy="1247.14" r="1.04" fill="#7a62b6" opacity="0.8"/>
<circle cx="243.52" cy="1262.04" r="0.63" fill="#7a62b6" opacity="0.62"/>
<circle cx="204.06" cy="1282.69" r="0.51" fill="#7a62b6" opacity="0.7"/>
<circle cx="259.43" cy="1270.77" r="0.93" fill="#7a62b6" opacity="0.62"/>
<circle cx="191.38" cy="1291.31" r="0.75" fill="#7a62b6" opacity="0.74"/>
<circle cx="196.19" cy="1280.26" r="1.23" fill="#7a62b6" opacity="0.48"/>
<circle cx="242.86" cy="1252.61" r="1.02" fill="#7a62b6" opacity="0.81"/>
<circle cx="213.16" cy="1252.14" r="1.17" fill="#7a62b6" opacity="0.49"/>
<circle cx="210.19" cy="1254.54" r="0.92" fill="#7a62b6" opacity="0.83"/>
<circle cx="241.37" cy="1242.2" r="0.75" fill="#7a62b6" opacity="0.55"/>
<circle cx="206.74" cy="1283.21" r="0.72" fill="#7a62b6" opacity="0.88"/>
<circle cx="261.6" cy="1302.84" r="0.8" fill="#7a62b6" opacity="0.61"/>
<circle cx="223.89" cy="1291.05" r="0.87" fill="#7a62b6" opacity="0.52"/>
<circle cx="205.27" cy="1286.3" r="1.22" fill="#7a62b6" opacity="0.86"/>
<circle cx="195.98" cy="1289.8" r="1.24" fill="#7a62b6" opacity="0.6"/>
<circle cx="250.66" cy="1291.18" r="0.65" fill="#7a62b6" opacity="0.76"/>
<circle cx="209.99" cy="1297.36" r="1.14" fill="#7a62b6" opacity="0.55"/>
<circle cx="243.73" cy="1242.91" r="0.82" fill="#7a62b6" opacity="0.82"/>
<circle cx="207.53" cy="1311.45" r="1.24" fill="#7a62b6" opacity="0.68"/>
<circle cx="214.57" cy="1237.09" r="1.09" fill="#7a62b6" opacity="0.79"/>
<circle cx="259.81" cy="1245.71" r="1.1" fill="#7a62b6" opacity="0.89"/>
<circle cx="221.05" cy="1311.66" r="1.04" fill="#7a62b6" opacity="0.62"/>
<circle cx="213.11" cy="1290.09" r="1.27" fill="#7a62b6" opacity="0.61"/>
<circle cx="188.72" cy="1282.9" r="0.65" fill="#7a62b6" opacity="0.88"/>
<circle cx="237.88" cy="1284.28" r="0.78" fill="#7a62b6" opacity="0.61"/>
<circle cx="267.03" cy="1256.27" r="1.11" fill="#7a62b6" opacity="0.65"/>
<circle cx="206.56" cy="1270.3" r="1.17" fill="#7a62b6" opacity="0.63"/>
<circle cx="222.53" cy="1312.38" r="0.62" fill="#7a62b6" opacity="0.59"/>
<circle cx="245.91" cy="1269.19" r="0.61" fill="#7a62b6" opacity="0.54"/>
<circle cx="230.31" cy="1307.64" r="0.7" fill="#7a62b6" opacity="0.6"/>
</g>
<g filter="url(#blur1)">
<circle cx="188" cy="1262" r="2.2" fill="#4f2fa6" opacity="0.9"/>
<circle cx="190" cy="1270" r="2" fill="#4f2fa6" opacity="0.9"/>
<circle cx="187.5" cy="1285" r="2.5" fill="#4f2fa6" opacity="0.9"/>
<circle cx="190" cy="1291" r="2.5" fill="#4f2fa6" opacity="0.9"/>
<circle cx="193" cy="1297" r="2.2" fill="#4f2fa6" opacity="0.9"/>
<circle cx="197" cy="1301" r="2" fill="#4f2fa6" opacity="0.9"/>
<circle cx="208" cy="1240" r="2.2" fill="#4f2fa6" opacity="0.9"/>
<circle cx="213" cy="1237.5" r="2.4" fill="#4f2fa6" opacity="0.9"/>
<circle cx="222" cy="1236" r="1.8" fill="#4f2fa6" opacity="0.9"/>
<circle cx="250" cy="1239" r="2" fill="#4f2fa6" opacity="0.9"/>
<circle cx="256" cy="1241" r="2.2" fill="#4f2fa6" opacity="0.9"/>
<circle cx="262" cy="1244" r="2" fill="#4f2fa6" opacity="0.9"/>
<circle cx="274" cy="1284" r="2.5" fill="#4f2fa6" opacity="0.9"/>
<circle cx="273" cy="1291" r="2.3" fill="#4f2fa6" opacity="0.9"/>
<circle cx="271" cy="1297" r="2" fill="#4f2fa6" opacity="0.9"/>
<circle cx="276" cy="1279" r="2" fill="#4f2fa6" opacity="0.9"/>
<circle cx="238" cy="1316" r="2" fill="#4f2fa6" opacity="0.9"/>
<circle cx="244" cy="1318" r="2" fill="#4f2fa6" opacity="0.9"/>
<circle cx="228" cy="1319" r="1.8" fill="#4f2fa6" opacity="0.9"/>
<circle cx="244" cy="1256" r="1.7" fill="#4f2fa6" opacity="0.9"/>
<circle cx="247" cy="1260" r="1.7" fill="#4f2fa6" opacity="0.9"/>
<circle cx="250" cy="1263.5" r="1.6" fill="#4f2fa6" opacity="0.9"/>
<circle cx="253" cy="1267" r="1.5" fill="#4f2fa6" opacity="0.9"/>
<circle cx="231.5" cy="1275" r="1.3" fill="#4f2fa6" opacity="0.9"/>
<circle cx="231.5" cy="1280" r="1.3" fill="#4f2fa6" opacity="0.9"/>
<circle cx="232" cy="1286" r="1.5" fill="#4f2fa6" opacity="0.9"/>
<circle cx="238.5" cy="1297" r="1.5" fill="#4f2fa6" opacity="0.9"/>
<circle cx="240" cy="1303" r="1.6" fill="#4f2fa6" opacity="0.9"/>
<circle cx="243" cy="1285" r="1.4" fill="#4f2fa6" opacity="0.9"/>
<circle cx="247" cy="1289" r="1.4" fill="#4f2fa6" opacity="0.9"/>
<circle cx="209" cy="1276" r="1.2" fill="#4f2fa6" opacity="0.9"/>
<circle cx="200" cy="1258" r="1.2" fill="#4f2fa6" opacity="0.9"/>
<circle cx="204" cy="1268" r="1.1" fill="#4f2fa6" opacity="0.9"/>
<circle cx="221" cy="1290" r="1.1" fill="#4f2fa6" opacity="0.9"/>
<circle cx="215" cy="1283" r="1.1" fill="#4f2fa6" opacity="0.9"/>
<circle cx="258" cy="1273" r="1.1" fill="#4f2fa6" opacity="0.9"/>
<circle cx="262" cy="1262" r="1.2" fill="#4f2fa6" opacity="0.9"/>
</g>
<defs><linearGradient id="dg3" x1="0" y1="0" x2="0" y2="1"><stop offset="0" stop-color="#aeadb3"/><stop offset="1" stop-color="#bfbec3"/></linearGradient></defs>
<g filter="url(#blur1)">
<ellipse cx="359" cy="1277.5" rx="46.5" ry="46" fill="url(#dg3)" stroke="#a39eb0" stroke-width="3"/>
<ellipse cx="359" cy="1277.5" rx="43" ry="42.5" fill="none" stroke="#cbc8d3" stroke-width="1.6" opacity="0.8"/>
</g>
<g filter="url(#blur1)">
<circle cx="382.5" cy="1267.5" r="3.4" fill="#4f2fa6" opacity="0.9"/>
<circle cx="395" cy="1301" r="2" fill="#4f2fa6" opacity="0.9"/>
<circle cx="357.5" cy="1232" r="1.2" fill="#4f2fa6" opacity="0.9"/>
</g>
<defs><linearGradient id="dg4" x1="0" y1="0" x2="0" y2="1"><stop offset="0" stop-color="#b6b4ba"/><stop offset="1" stop-color="#c4c2c7"/></linearGradient></defs>
<g filter="url(#blur1)">
<ellipse cx="471.6" cy="1278" rx="48.1" ry="45.5" fill="url(#dg4)" stroke="#a19cae" stroke-width="3"/>
<ellipse cx="471.6" cy="1278" rx="44.6" ry="42" fill="none" stroke="#ccc8d3" stroke-width="1.6" opacity="0.8"/>
<circle cx="472.02" cy="1282.49" r="0.82" fill="#7b68b8" opacity="0.52"/>
<circle cx="488.53" cy="1285.12" r="1.23" fill="#7b68b8" opacity="0.81"/>
<circle cx="472.57" cy="1268.34" r="0.93" fill="#7b68b8" opacity="0.57"/>
<circle cx="473.89" cy="1282.1" r="0.67" fill="#7b68b8" opacity="0.87"/>
<circle cx="489.3" cy="1246.99" r="1.14" fill="#7b68b8" opacity="0.54"/>
<circle cx="460.98" cy="1303.49" r="1.09" fill="#7b68b8" opacity="0.83"/>
<circle cx="474.52" cy="1275.41" r="0.98" fill="#7b68b8" opacity="0.75"/>
<circle cx="463.4" cy="1277.71" r="0.88" fill="#7b68b8" opacity="0.49"/>
<circle cx="508.2" cy="1262.89" r="0.94" fill="#7b68b8" opacity="0.59"/>
<circle cx="493.79" cy="1264.45" r="1.21" fill="#7b68b8" opacity="0.83"/>
</g>
<g filter="url(#blur1)">
<circle cx="479.7" cy="1234.7" r="2.6" fill="#4f2fa6" opacity="0.9"/>
<circle cx="457" cy="1241" r="1.3" fill="#4f2fa6" opacity="0.9"/>
<circle cx="509.8" cy="1254" r="2" fill="#4f2fa6" opacity="0.9"/>
<circle cx="467.8" cy="1263.8" r="2.2" fill="#4f2fa6" opacity="0.9"/>
<circle cx="472" cy="1264.9" r="2" fill="#4f2fa6" opacity="0.9"/>
<circle cx="429" cy="1270.3" r="2" fill="#4f2fa6" opacity="0.9"/>
<circle cx="437.6" cy="1273.5" r="2.2" fill="#4f2fa6" opacity="0.9"/>
<circle cx="450.6" cy="1272.4" r="2.2" fill="#4f2fa6" opacity="0.9"/>
<circle cx="486" cy="1268" r="1.3" fill="#4f2fa6" opacity="0.9"/>
<circle cx="504.4" cy="1269.2" r="2.2" fill="#4f2fa6" opacity="0.9"/>
<circle cx="489.4" cy="1275.6" r="2" fill="#4f2fa6" opacity="0.9"/>
<circle cx="506.6" cy="1280" r="2.2" fill="#4f2fa6" opacity="0.9"/>
<circle cx="484" cy="1289.7" r="3" fill="#4f2fa6" opacity="0.9"/>
<circle cx="514" cy="1290.7" r="2" fill="#4f2fa6" opacity="0.9"/>
<circle cx="443" cy="1301.5" r="2" fill="#4f2fa6" opacity="0.9"/>
<circle cx="460.3" cy="1301.5" r="2" fill="#4f2fa6" opacity="0.9"/>
<circle cx="480.7" cy="1305.8" r="2" fill="#4f2fa6" opacity="0.9"/>
<circle cx="492.6" cy="1305.8" r="2" fill="#4f2fa6" opacity="0.9"/>
<circle cx="465.6" cy="1310.1" r="3.5" fill="#4f2fa6" opacity="0.9"/>
<circle cx="472" cy="1308" r="3" fill="#4f2fa6" opacity="0.9"/>
<circle cx="460" cy="1311" r="2.5" fill="#4f2fa6" opacity="0.9"/>
<circle cx="447.3" cy="1313.4" r="2.5" fill="#4f2fa6" opacity="0.9"/>
<circle cx="439.8" cy="1296" r="1.2" fill="#4f2fa6" opacity="0.9"/>
<circle cx="453.8" cy="1294" r="1.2" fill="#4f2fa6" opacity="0.9"/>
<circle cx="468.9" cy="1318.8" r="2" fill="#4f2fa6" opacity="0.9"/>
<circle cx="461.3" cy="1319.8" r="1.6" fill="#4f2fa6" opacity="0.9"/>
<circle cx="476" cy="1312" r="2.2" fill="#4f2fa6" opacity="0.9"/>
</g>
<defs><linearGradient id="dg5" x1="0" y1="0" x2="0" y2="1"><stop offset="0" stop-color="#a9a8b4"/><stop offset="1" stop-color="#b5b4c0"/></linearGradient></defs>
<g filter="url(#blur1)">
<ellipse cx="595" cy="1277.5" rx="46" ry="45.5" fill="url(#dg5)" stroke="#9790a8" stroke-width="3"/>
<ellipse cx="595" cy="1277.5" rx="42.5" ry="42" fill="none" stroke="#c2bdcd" stroke-width="1.6" opacity="0.8"/>
</g>
<defs><linearGradient id="dg6" x1="0" y1="0" x2="0" y2="1"><stop offset="0" stop-color="#adacb4"/><stop offset="1" stop-color="#bdbcc3"/></linearGradient></defs>
<g filter="url(#blur1)">
<ellipse cx="705.4" cy="1278.75" rx="47.5" ry="46" fill="url(#dg6)" stroke="#9a90b2" stroke-width="3"/>
<ellipse cx="705.4" cy="1278.75" rx="44" ry="42.5" fill="none" stroke="#c6bfd1" stroke-width="1.6" opacity="0.8"/>
<circle cx="716.39" cy="1240.59" r="0.69" fill="#6f6398" opacity="0.57"/>
<circle cx="741.66" cy="1278.85" r="0.68" fill="#6f6398" opacity="0.79"/>
<circle cx="677.85" cy="1306.08" r="0.56" fill="#6f6398" opacity="0.81"/>
<circle cx="701.87" cy="1251.9" r="0.72" fill="#6f6398" opacity="0.76"/>
<circle cx="716.9" cy="1308.54" r="0.88" fill="#6f6398" opacity="0.57"/>
<circle cx="717.56" cy="1244.92" r="0.91" fill="#6f6398" opacity="0.6"/>
<circle cx="738.97" cy="1300.31" r="0.88" fill="#6f6398" opacity="0.65"/>
<circle cx="720.77" cy="1288.71" r="0.78" fill="#6f6398" opacity="0.58"/>
<circle cx="737.77" cy="1268.85" r="0.52" fill="#6f6398" opacity="0.74"/>
<circle cx="677.37" cy="1311.43" r="0.95" fill="#6f6398" opacity="0.68"/>
<circle cx="682.45" cy="1250.23" r="0.88" fill="#6f6398" opacity="0.89"/>
<circle cx="730.88" cy="1283.21" r="0.76" fill="#6f6398" opacity="0.59"/>
<circle cx="695.29" cy="1272.6" r="0.93" fill="#6f6398" opacity="0.69"/>
<circle cx="732.32" cy="1302.3" r="0.59" fill="#6f6398" opacity="0.54"/>
<circle cx="690.31" cy="1280.25" r="0.53" fill="#6f6398" opacity="0.84"/>
<circle cx="704.12" cy="1275.08" r="0.87" fill="#6f6398" opacity="0.46"/>
<circle cx="683.95" cy="1314.99" r="0.77" fill="#6f6398" opacity="0.59"/>
<circle cx="686.04" cy="1296.96" r="0.48" fill="#6f6398" opacity="0.9"/>
<circle cx="732.05" cy="1287.84" r="0.85" fill="#6f6398" opacity="0.63"/>
<circle cx="726.13" cy="1276.34" r="0.99" fill="#6f6398" opacity="0.85"/>
<circle cx="684.88" cy="1242.45" r="0.67" fill="#6f6398" opacity="0.82"/>
<circle cx="714.42" cy="1249.42" r="0.68" fill="#6f6398" opacity="0.77"/>
<circle cx="695.6" cy="1284.86" r="0.85" fill="#6f6398" opacity="0.57"/>
<circle cx="665.71" cy="1281.74" r="0.5" fill="#6f6398" opacity="0.46"/>
<circle cx="729.65" cy="1301.82" r="0.62" fill="#6f6398" opacity="0.57"/>
<circle cx="663.7" cy="1291.45" r="0.55" fill="#6f6398" opacity="0.63"/>
<circle cx="730.59" cy="1255.62" r="0.56" fill="#6f6398" opacity="0.66"/>
<circle cx="690.12" cy="1280.76" r="0.63" fill="#6f6398" opacity="0.59"/>
<circle cx="713.61" cy="1256.54" r="0.8" fill="#6f6398" opacity="0.89"/>
<circle cx="728.84" cy="1266.83" r="0.76" fill="#6f6398" opacity="0.59"/>
<circle cx="680.85" cy="1296.44" r="0.88" fill="#6f6398" opacity="0.87"/>
<circle cx="704.71" cy="1281.29" r="0.67" fill="#6f6398" opacity="0.48"/>
<circle cx="744.21" cy="1285.95" r="0.47" fill="#6f6398" opacity="0.77"/>
<circle cx="676.93" cy="1311.26" r="0.91" fill="#6f6398" opacity="0.48"/>
<circle cx="721" cy="1318.86" r="0.77" fill="#6f6398" opacity="0.64"/>
<circle cx="713.59" cy="1240.17" r="0.7" fill="#6f6398" opacity="0.66"/>
<circle cx="726.35" cy="1293.53" r="0.49" fill="#6f6398" opacity="0.73"/>
<circle cx="693.21" cy="1269.4" r="0.78" fill="#6f6398" opacity="0.49"/>
<circle cx="733.58" cy="1300.06" r="0.68" fill="#6f6398" opacity="0.85"/>
<circle cx="679.65" cy="1252.43" r="0.48" fill="#6f6398" opacity="0.82"/>
<circle cx="735.59" cy="1295.7" r="0.95" fill="#6f6398" opacity="0.86"/>
<circle cx="728.37" cy="1261.09" r="0.82" fill="#6f6398" opacity="0.81"/>
<circle cx="734.14" cy="1311.2" r="0.95" fill="#6f6398" opacity="0.65"/>
<circle cx="710.59" cy="1250.96" r="0.57" fill="#6f6398" opacity="0.77"/>
<circle cx="742.48" cy="1293.95" r="0.99" fill="#6f6398" opacity="0.58"/>
<circle cx="716.07" cy="1274.63" r="0.91" fill="#6f6398" opacity="0.58"/>
<circle cx="733.3" cy="1272.92" r="0.95" fill="#6f6398" opacity="0.46"/>
<circle cx="740.36" cy="1298.98" r="0.78" fill="#6f6398" opacity="0.69"/>
<circle cx="722.25" cy="1282.15" r="0.62" fill="#6f6398" opacity="0.47"/>
<circle cx="744.64" cy="1277.09" r="0.97" fill="#6f6398" opacity="0.77"/>
<circle cx="699.3" cy="1287.64" r="0.84" fill="#6f6398" opacity="0.5"/>
<circle cx="676.95" cy="1270.34" r="0.7" fill="#6f6398" opacity="0.48"/>
<circle cx="733.74" cy="1292.52" r="0.42" fill="#6f6398" opacity="0.69"/>
<circle cx="718.62" cy="1296.45" r="0.49" fill="#6f6398" opacity="0.71"/>
<circle cx="690.28" cy="1291.14" r="0.53" fill="#6f6398" opacity="0.7"/>
<circle cx="729.19" cy="1264.23" r="0.5" fill="#6f6398" opacity="0.59"/>
<circle cx="707.43" cy="1311.09" r="0.87" fill="#6f6398" opacity="0.71"/>
<circle cx="714.65" cy="1300.65" r="0.63" fill="#6f6398" opacity="0.65"/>
<circle cx="669.01" cy="1305.23" r="0.73" fill="#6f6398" opacity="0.75"/>
<circle cx="697.91" cy="1244.89" r="0.88" fill="#6f6398" opacity="0.62"/>
<circle cx="682.94" cy="1241.09" r="0.5" fill="#6f6398" opacity="0.73"/>
<circle cx="698.18" cy="1284.94" r="0.42" fill="#6f6398" opacity="0.79"/>
<circle cx="733.75" cy="1302.85" r="0.46" fill="#6f6398" opacity="0.62"/>
<circle cx="737.19" cy="1285.07" r="0.87" fill="#6f6398" opacity="0.55"/>
<circle cx="665.45" cy="1261.9" r="0.58" fill="#6f6398" opacity="0.66"/>
<circle cx="698.6" cy="1238.55" r="0.5" fill="#6f6398" opacity="0.75"/>
<circle cx="715.25" cy="1287.72" r="0.99" fill="#6f6398" opacity="0.47"/>
<circle cx="739.41" cy="1260.57" r="0.81" fill="#6f6398" opacity="0.78"/>
<circle cx="692.12" cy="1260.81" r="0.67" fill="#6f6398" opacity="0.54"/>
<circle cx="730.54" cy="1249.01" r="0.87" fill="#6f6398" opacity="0.55"/>
<circle cx="687.55" cy="1267.43" r="0.87" fill="#6f6398" opacity="0.79"/>
<circle cx="743" cy="1277.63" r="0.81" fill="#6f6398" opacity="0.8"/>
<circle cx="733.81" cy="1297.14" r="0.42" fill="#6f6398" opacity="0.62"/>
<circle cx="738.2" cy="1307.54" r="0.42" fill="#6f6398" opacity="0.86"/>
<circle cx="732.59" cy="1269.8" r="0.9" fill="#6f6398" opacity="0.47"/>
<circle cx="707.64" cy="1281.35" r="0.44" fill="#6f6398" opacity="0.45"/>
<circle cx="710.96" cy="1268.69" r="0.75" fill="#6f6398" opacity="0.57"/>
<circle cx="724.34" cy="1298.89" r="0.51" fill="#6f6398" opacity="0.89"/>
<circle cx="679.97" cy="1300.79" r="0.74" fill="#6f6398" opacity="0.73"/>
<circle cx="683.54" cy="1281.37" r="0.48" fill="#6f6398" opacity="0.85"/>
<circle cx="715.71" cy="1305.22" r="0.89" fill="#6f6398" opacity="0.71"/>
<circle cx="743.79" cy="1266.16" r="0.71" fill="#6f6398" opacity="0.5"/>
<circle cx="680.27" cy="1262.71" r="0.92" fill="#6f6398" opacity="0.69"/>
<circle cx="691.48" cy="1241.8" r="0.68" fill="#6f6398" opacity="0.83"/>
<circle cx="718.42" cy="1269.5" r="0.95" fill="#6f6398" opacity="0.84"/>
<circle cx="720.68" cy="1259.65" r="0.55" fill="#6f6398" opacity="0.51"/>
<circle cx="676.62" cy="1308.1" r="0.62" fill="#6f6398" opacity="0.45"/>
<circle cx="701.54" cy="1289.15" r="0.77" fill="#6f6398" opacity="0.8"/>
<circle cx="716.06" cy="1273.62" r="0.63" fill="#6f6398" opacity="0.51"/>
<circle cx="740.31" cy="1257.4" r="0.71" fill="#6f6398" opacity="0.88"/>
<circle cx="666.13" cy="1273.87" r="0.69" fill="#6f6398" opacity="0.61"/>
<circle cx="746.78" cy="1277.34" r="0.76" fill="#6f6398" opacity="0.84"/>
<circle cx="681.66" cy="1247.31" r="0.44" fill="#6f6398" opacity="0.51"/>
<circle cx="731.99" cy="1299.92" r="0.83" fill="#6f6398" opacity="0.52"/>
<circle cx="691.8" cy="1278.32" r="0.81" fill="#6f6398" opacity="0.8"/>
<circle cx="743.94" cy="1301.38" r="0.8" fill="#6f6398" opacity="0.51"/>
<circle cx="695.7" cy="1291.52" r="0.84" fill="#6f6398" opacity="0.86"/>
<circle cx="713.47" cy="1294.13" r="0.78" fill="#6f6398" opacity="0.84"/>
<circle cx="703.35" cy="1250.2" r="0.47" fill="#6f6398" opacity="0.73"/>
<circle cx="666.6" cy="1289.53" r="0.74" fill="#6f6398" opacity="0.78"/>
<circle cx="739.95" cy="1272.6" r="0.95" fill="#6f6398" opacity="0.57"/>
<circle cx="747.91" cy="1279.15" r="0.42" fill="#6f6398" opacity="0.9"/>
<circle cx="696.11" cy="1281.32" r="0.56" fill="#6f6398" opacity="0.77"/>
<circle cx="679.24" cy="1301.38" r="0.46" fill="#6f6398" opacity="0.83"/>
<circle cx="676.63" cy="1307.29" r="0.49" fill="#6f6398" opacity="0.75"/>
<circle cx="678.36" cy="1283.92" r="0.41" fill="#6f6398" opacity="0.69"/>
<circle cx="712.2" cy="1268.07" r="0.67" fill="#6f6398" opacity="0.46"/>
<circle cx="750.16" cy="1277.14" r="0.81" fill="#6f6398" opacity="0.67"/>
<circle cx="718.14" cy="1284.6" r="0.82" fill="#6f6398" opacity="0.81"/>
<circle cx="747.26" cy="1275.96" r="0.66" fill="#6f6398" opacity="0.56"/>
</g>
<g filter="url(#blur1)">
<circle cx="687.6" cy="1257.3" r="2" fill="#4f2fa6" opacity="0.9"/>
<circle cx="666" cy="1269.2" r="2" fill="#4f2fa6" opacity="0.9"/>
<circle cx="677.9" cy="1286.4" r="2.5" fill="#4f2fa6" opacity="0.9"/>
<circle cx="700.6" cy="1277.8" r="1.5" fill="#4f2fa6" opacity="0.9"/>
<circle cx="709.2" cy="1289.7" r="2.5" fill="#4f2fa6" opacity="0.9"/>
<circle cx="712.4" cy="1291.8" r="2" fill="#4f2fa6" opacity="0.9"/>
<circle cx="721" cy="1282.1" r="2" fill="#4f2fa6" opacity="0.9"/>
<circle cx="725.3" cy="1299.4" r="2" fill="#4f2fa6" opacity="0.9"/>
<circle cx="741.5" cy="1301.5" r="3" fill="#4f2fa6" opacity="0.9"/>
<circle cx="738.3" cy="1253" r="2" fill="#4f2fa6" opacity="0.9"/>
<circle cx="702.7" cy="1310.1" r="2.5" fill="#4f2fa6" opacity="0.9"/>
<circle cx="718.9" cy="1317.7" r="2.5" fill="#4f2fa6" opacity="0.9"/>
<circle cx="693" cy="1319.8" r="2" fill="#4f2fa6" opacity="0.9"/>
<circle cx="671.5" cy="1301.5" r="2" fill="#4f2fa6" opacity="0.9"/>
<circle cx="728.6" cy="1270.3" r="1.5" fill="#4f2fa6" opacity="0.9"/>
<circle cx="695.2" cy="1266" r="1.5" fill="#4f2fa6" opacity="0.9"/>
</g>
<text x="100" y="1350" font-size="15.3" letter-spacing="0.48" style="font-weight:normal;fill:#3a3a3a" stroke="#3a3a3a" stroke-width="0.45">HeLa</text>
<text x="199.25" y="1350" font-size="15.3" letter-spacing="0.47" style="font-weight:normal;fill:#3a3a3a" stroke="#3a3a3a" stroke-width="0.45">HeLa/ddp</text>
<text x="338.75" y="1350" font-size="15.3" letter-spacing="0.56" style="font-weight:normal;fill:#3a3a3a" stroke="#3a3a3a" stroke-width="0.45">HGC27</text>
<text x="440" y="1350" font-size="15.3" letter-spacing="0.54" style="font-weight:normal;fill:#3a3a3a" stroke="#3a3a3a" stroke-width="0.45">HGC27/ddp</text>
<text x="581.97" y="1350" font-size="15.3" letter-spacing="0.71" style="font-weight:normal;fill:#3a3a3a" stroke="#3a3a3a" stroke-width="0.45">AGS</text>
<text x="677.47" y="1350" font-size="15.3" letter-spacing="0.39" style="font-weight:normal;fill:#3a3a3a" stroke="#3a3a3a" stroke-width="0.45">AGS/ddp</text>
<rect x="315" y="1469.7" width="47.5" height="151.5" fill="#9c9ca0"/>
<rect x="386.5" y="1613.6" width="47" height="7.6" fill="#000"/>
<rect x="458.5" y="1469.7" width="47" height="151.5" fill="#9c9ca0"/>
<rect x="601.5" y="1469.7" width="47.5" height="151.5" fill="#9c9ca0"/>
<line x1="231" y1="1407.8" x2="231" y2="1622.8" stroke="#000" stroke-width="3.2"/>
<line x1="222.5" y1="1409.4" x2="231" y2="1409.4" stroke="#000" stroke-width="3.2"/>
<line x1="222.5" y1="1439.6" x2="231" y2="1439.6" stroke="#000" stroke-width="3.2"/>
<line x1="222.5" y1="1469.7" x2="231" y2="1469.7" stroke="#000" stroke-width="3.2"/>
<line x1="222.5" y1="1500" x2="231" y2="1500" stroke="#000" stroke-width="3.2"/>
<line x1="222.5" y1="1530.3" x2="231" y2="1530.3" stroke="#000" stroke-width="3.2"/>
<line x1="222.5" y1="1560.6" x2="231" y2="1560.6" stroke="#000" stroke-width="3.2"/>
<line x1="222.5" y1="1590.9" x2="231" y2="1590.9" stroke="#000" stroke-width="3.2"/>
<line x1="222.5" y1="1621.2" x2="231" y2="1621.2" stroke="#000" stroke-width="3.2"/>
<text x="187.76" y="1416.4" font-size="17" letter-spacing="2.1">1.4</text>
<text x="188.35" y="1446.6" font-size="17" letter-spacing="2.1">1.2</text>
<text x="188.37" y="1476.7" font-size="17" letter-spacing="2.1">1.0</text>
<text x="188.2" y="1507" font-size="17" letter-spacing="2.1">0.8</text>
<text x="188.28" y="1537.3" font-size="17" letter-spacing="2.1">0.6</text>
<text x="187.76" y="1567.6" font-size="17" letter-spacing="2.1">0.4</text>
<text x="188.35" y="1597.9" font-size="17" letter-spacing="2.1">0.2</text>
<text x="188.37" y="1628.2" font-size="17" letter-spacing="2.1">0.0</text>
<line x1="222.5" y1="1621.2" x2="662.5" y2="1621.2" stroke="#000" stroke-width="3.2"/>
<line x1="266.8" y1="1621.2" x2="266.8" y2="1630" stroke="#000" stroke-width="3.2"/>
<line x1="338.2" y1="1621.2" x2="338.2" y2="1630" stroke="#000" stroke-width="3.2"/>
<line x1="410" y1="1621.2" x2="410" y2="1630" stroke="#000" stroke-width="3.2"/>
<line x1="481.6" y1="1621.2" x2="481.6" y2="1630" stroke="#000" stroke-width="3.2"/>
<line x1="553.2" y1="1621.2" x2="553.2" y2="1630" stroke="#000" stroke-width="3.2"/>
<line x1="624.8" y1="1621.2" x2="624.8" y2="1630" stroke="#000" stroke-width="3.2"/>
<line x1="338.75" y1="1439.5" x2="338.75" y2="1501" stroke="#000" stroke-width="1.6"/>
<line x1="327.75" y1="1439.5" x2="349.75" y2="1439.5" stroke="#000" stroke-width="1.6"/>
<line x1="327.75" y1="1501" x2="349.75" y2="1501" stroke="#000" stroke-width="1.6"/>
<line x1="410" y1="1608" x2="410" y2="1613.6" stroke="#000" stroke-width="1.6"/>
<line x1="399" y1="1608" x2="421" y2="1608" stroke="#000" stroke-width="1.6"/>
<line x1="482" y1="1441.5" x2="482" y2="1498" stroke="#000" stroke-width="1.6"/>
<line x1="471" y1="1441.5" x2="493" y2="1441.5" stroke="#000" stroke-width="1.6"/>
<line x1="471" y1="1498" x2="493" y2="1498" stroke="#000" stroke-width="1.6"/>
<line x1="625.25" y1="1455" x2="625.25" y2="1485" stroke="#000" stroke-width="1.6"/>
<line x1="614.25" y1="1455" x2="636.25" y2="1455" stroke="#000" stroke-width="1.6"/>
<line x1="614.25" y1="1485" x2="636.25" y2="1485" stroke="#000" stroke-width="1.6"/>
<line x1="280.1" y1="1422.4" x2="338" y2="1422.4" stroke="#000" stroke-width="1.6"/>
<line x1="422.5" y1="1422.9" x2="485.5" y2="1422.9" stroke="#000" stroke-width="1.6"/>
<line x1="554.1" y1="1423.2" x2="617.1" y2="1423.2" stroke="#000" stroke-width="1.6"/>
<text x="295.54" y="1422.66" font-size="18.55" letter-spacing="3.51">***</text>
<text x="443.44" y="1422.66" font-size="18.55" letter-spacing="3.41">***</text>
<text x="570.14" y="1422.66" font-size="18.55" letter-spacing="3.46">***</text>
<text x="174" y="1645.21" font-size="18" transform="rotate(-90 174 1645.21)" letter-spacing="2.62">Relative colony number</text>
<text x="233.71" y="1684.19" font-size="16.5" transform="rotate(-45 233.71 1684.19)" letter-spacing="2.9">HeLa</text>
<text x="272.28" y="1717.02" font-size="16.5" transform="rotate(-45 272.28 1717.02)" letter-spacing="2.9">HeLa/ddp</text>
<text x="364.48" y="1696.62" font-size="16.5" transform="rotate(-45 364.48 1696.62)" letter-spacing="2.9">HGC27</text>
<text x="403.25" y="1729.45" font-size="16.5" transform="rotate(-45 403.25 1729.45)" letter-spacing="2.9">HGC27/ddp</text>
<text x="525.4" y="1678.89" font-size="16.5" transform="rotate(-45 525.4 1678.89)" letter-spacing="2.9">AGS</text>
<text x="564.18" y="1711.72" font-size="16.5" transform="rotate(-45 564.18 1711.72)" letter-spacing="2.9">AGS/ddp</text>
<text x="336.64" y="1763.7" font-size="18.6" letter-spacing="3.76">Colony Formation</text>
<text x="789.68" y="1273.33" font-size="50.9" style="font-weight:normal" stroke="#000" stroke-width="1.9">F</text>
<rect x="953.7" y="1361.5" width="50.8" height="246.7" fill="#000"/>
<rect x="1031" y="1388.5" width="51" height="219.7" fill="#9c9ca0"/>
<line x1="940.5" y1="1297.2" x2="940.5" y2="1610.1" stroke="#000" stroke-width="3.8"/>
<line x1="929.5" y1="1299.1" x2="940.5" y2="1299.1" stroke="#000" stroke-width="3.8"/>
<line x1="929.5" y1="1402.1" x2="940.5" y2="1402.1" stroke="#000" stroke-width="3.8"/>
<line x1="929.5" y1="1505.1" x2="940.5" y2="1505.1" stroke="#000" stroke-width="3.8"/>
<line x1="929.5" y1="1608.2" x2="940.5" y2="1608.2" stroke="#000" stroke-width="3.8"/>
<text x="877.82" y="1308.1" font-size="21.8" letter-spacing="3.8">150</text>
<text x="877.82" y="1411.1" font-size="21.8" letter-spacing="3.8">100</text>
<text x="893.75" y="1514.1" font-size="21.8" letter-spacing="3.8">50</text>
<text x="909.67" y="1617.2" font-size="21.8" letter-spacing="3.8">0</text>
<line x1="929.5" y1="1608.2" x2="1096" y2="1608.2" stroke="#000" stroke-width="3.8"/>
<line x1="978.5" y1="1608.2" x2="978.5" y2="1619.5" stroke="#000" stroke-width="3.8"/>
<line x1="1056" y1="1608.2" x2="1056" y2="1619.5" stroke="#000" stroke-width="3.8"/>
<line x1="979" y1="1351" x2="979" y2="1361.5" stroke="#000" stroke-width="1.8"/>
<line x1="968" y1="1351" x2="990" y2="1351" stroke="#000" stroke-width="1.8"/>
<line x1="1056.5" y1="1386.5" x2="1056.5" y2="1389.5" stroke="#000" stroke-width="1.8"/>
<line x1="1045.5" y1="1386.5" x2="1067.5" y2="1386.5" stroke="#000" stroke-width="1.8"/>
<line x1="1045.5" y1="1389.5" x2="1067.5" y2="1389.5" stroke="#000" stroke-width="1.8"/>
<line x1="982.8" y1="1328" x2="1057" y2="1328" stroke="#000" stroke-width="2"/>
<text x="1013.13" y="1331.21" font-size="23.12">*</text>
<text x="859.7" y="1642.32" font-size="24.8" transform="rotate(-90 859.7 1642.32)" letter-spacing="4.04">GSH-Px Activity(mU/mg)</text>
<text x="934.72" y="1687.91" font-size="21.5" transform="rotate(-45 934.72 1687.91)" letter-spacing="3.84">HeLa</text>
<text x="969.29" y="1730.84" font-size="21.5" transform="rotate(-45 969.29 1730.84)" letter-spacing="3.84">HeLa/ddp</text>
<rect x="1231" y="1371.5" width="47.5" height="232.5" fill="#000"/>
<rect x="1302" y="1379" width="48" height="225" fill="#9c9ca0"/>
<line x1="1218.9" y1="1314.1" x2="1218.9" y2="1605.9" stroke="#000" stroke-width="3.8"/>
<line x1="1208.3" y1="1316" x2="1218.9" y2="1316" stroke="#000" stroke-width="3.8"/>
<line x1="1208.3" y1="1375.3" x2="1218.9" y2="1375.3" stroke="#000" stroke-width="3.8"/>
<line x1="1208.3" y1="1432.8" x2="1218.9" y2="1432.8" stroke="#000" stroke-width="3.8"/>
<line x1="1208.3" y1="1490.2" x2="1218.9" y2="1490.2" stroke="#000" stroke-width="3.8"/>
<line x1="1208.3" y1="1547.6" x2="1218.9" y2="1547.6" stroke="#000" stroke-width="3.8"/>
<line x1="1208.3" y1="1604" x2="1218.9" y2="1604" stroke="#000" stroke-width="3.8"/>
<text x="1152.45" y="1325" font-size="21.4" letter-spacing="2.4">0.25</text>
<text x="1152.73" y="1384.3" font-size="21.4" letter-spacing="2.4">0.20</text>
<text x="1152.45" y="1441.8" font-size="21.4" letter-spacing="2.4">0.15</text>
<text x="1152.73" y="1499.2" font-size="21.4" letter-spacing="2.4">0.10</text>
<text x="1152.45" y="1556.6" font-size="21.4" letter-spacing="2.4">0.05</text>
<text x="1152.73" y="1613" font-size="21.4" letter-spacing="2.4">0.00</text>
<line x1="1208.3" y1="1604" x2="1363.5" y2="1604" stroke="#000" stroke-width="3.8"/>
<line x1="1254.5" y1="1604" x2="1254.5" y2="1615" stroke="#000" stroke-width="3.8"/>
<line x1="1325.5" y1="1604" x2="1325.5" y2="1615" stroke="#000" stroke-width="3.8"/>
<line x1="1254.5" y1="1345" x2="1254.5" y2="1371.5" stroke="#000" stroke-width="1.8"/>
<line x1="1243.5" y1="1345" x2="1265.5" y2="1345" stroke="#000" stroke-width="1.8"/>
<line x1="1326.4" y1="1352.5" x2="1326.4" y2="1405.5" stroke="#000" stroke-width="1.8"/>
<line x1="1314.75" y1="1352.5" x2="1338.05" y2="1352.5" stroke="#000" stroke-width="1.8"/>
<line x1="1314.75" y1="1405.5" x2="1338.05" y2="1405.5" stroke="#000" stroke-width="1.8"/>
<text x="1136.2" y="1588.37" font-size="23.6" transform="rotate(-90 1136.2 1588.37)" letter-spacing="3.27">GR Activity(U/mg)</text>
<text x="1210.72" y="1683.91" font-size="21.5" transform="rotate(-45 1210.72 1683.91)" letter-spacing="3.84">HeLa</text>
<text x="1238.79" y="1726.84" font-size="21.5" transform="rotate(-45 1238.79 1726.84)" letter-spacing="3.84">HeLa/ddp</text>
<rect x="1491.25" y="1363.5" width="48.75" height="248.2" fill="#000"/>
<rect x="1564.75" y="1372.5" width="47.75" height="239.2" fill="#9c9ca0"/>
<line x1="1479" y1="1316.1" x2="1479" y2="1613.6" stroke="#000" stroke-width="3.8"/>
<line x1="1468.7" y1="1318" x2="1479" y2="1318" stroke="#000" stroke-width="3.8"/>
<line x1="1468.7" y1="1416" x2="1479" y2="1416" stroke="#000" stroke-width="3.8"/>
<line x1="1468.7" y1="1514" x2="1479" y2="1514" stroke="#000" stroke-width="3.8"/>
<line x1="1468.7" y1="1611.7" x2="1479" y2="1611.7" stroke="#000" stroke-width="3.8"/>
<text x="1433.07" y="1327" font-size="21.8" letter-spacing="3.8">15</text>
<text x="1433.35" y="1425" font-size="21.8" letter-spacing="3.8">10</text>
<text x="1448.99" y="1523" font-size="21.8" letter-spacing="3.8">5</text>
<text x="1449.27" y="1620.7" font-size="21.8" letter-spacing="3.8">0</text>
<line x1="1468.7" y1="1611.7" x2="1627" y2="1611.7" stroke="#000" stroke-width="3.8"/>
<line x1="1515" y1="1611.7" x2="1515" y2="1622" stroke="#000" stroke-width="3.8"/>
<line x1="1588" y1="1611.7" x2="1588" y2="1622" stroke="#000" stroke-width="3.8"/>
<line x1="1515.5" y1="1356" x2="1515.5" y2="1363.5" stroke="#000" stroke-width="1.8"/>
<line x1="1504.5" y1="1356" x2="1526.5" y2="1356" stroke="#000" stroke-width="1.8"/>
<line x1="1588.5" y1="1356.5" x2="1588.5" y2="1388" stroke="#000" stroke-width="1.8"/>
<line x1="1577.5" y1="1356.5" x2="1599.5" y2="1356.5" stroke="#000" stroke-width="1.8"/>
<line x1="1577.5" y1="1388" x2="1599.5" y2="1388" stroke="#000" stroke-width="1.8"/>
<text x="1416.5" y="1633.52" font-size="24.8" transform="rotate(-90 1416.5 1633.52)" letter-spacing="3.3">GSH-ST Activity(U/mg)</text>
<text x="1471.22" y="1692.16" font-size="21.5" transform="rotate(-45 1471.22 1692.16)" letter-spacing="3.84">HeLa</text>
<text x="1501.29" y="1735.09" font-size="21.5" transform="rotate(-45 1501.29 1735.09)" letter-spacing="3.84">HeLa/ddp</text>
<text x="33.91" y="1800.62" font-size="50.9" style="font-weight:normal" stroke="#000" stroke-width="1.9">G</text>
<rect x="212.5" y="2055" width="55" height="100" fill="#000"/>
<rect x="296" y="1898" width="55.5" height="257" fill="#9c9ca0"/>
<line x1="198" y1="1817" x2="198" y2="2156.9" stroke="#000" stroke-width="3.8"/>
<line x1="186.1" y1="1818.9" x2="198" y2="1818.9" stroke="#000" stroke-width="3.8"/>
<line x1="186.1" y1="1886.2" x2="198" y2="1886.2" stroke="#000" stroke-width="3.8"/>
<line x1="186.1" y1="1953.5" x2="198" y2="1953.5" stroke="#000" stroke-width="3.8"/>
<line x1="186.1" y1="2020.8" x2="198" y2="2020.8" stroke="#000" stroke-width="3.8"/>
<line x1="186.1" y1="2088" x2="198" y2="2088" stroke="#000" stroke-width="3.8"/>
<line x1="186.1" y1="2155" x2="198" y2="2155" stroke="#000" stroke-width="3.8"/>
<text x="146.43" y="1828.9" font-size="24.6" letter-spacing="2.7">25</text>
<text x="146.75" y="1896.2" font-size="24.6" letter-spacing="2.7">20</text>
<text x="146.43" y="1963.5" font-size="24.6" letter-spacing="2.7">15</text>
<text x="146.75" y="2030.8" font-size="24.6" letter-spacing="2.7">10</text>
<text x="162.81" y="2098" font-size="24.6" letter-spacing="2.7">5</text>
<text x="163.13" y="2165" font-size="24.6" letter-spacing="2.7">0</text>
<line x1="186.1" y1="2155" x2="367.5" y2="2155" stroke="#000" stroke-width="3.8"/>
<line x1="239.5" y1="2155" x2="239.5" y2="2167.2" stroke="#000" stroke-width="3.8"/>
<line x1="323.5" y1="2155" x2="323.5" y2="2167.2" stroke="#000" stroke-width="3.8"/>
<line x1="240" y1="2048.5" x2="240" y2="2055" stroke="#000" stroke-width="2"/>
<line x1="227" y1="2048.5" x2="253" y2="2048.5" stroke="#000" stroke-width="2"/>
<line x1="323.75" y1="1896.5" x2="323.75" y2="1900" stroke="#000" stroke-width="2"/>
<line x1="310.75" y1="1896.5" x2="336.75" y2="1896.5" stroke="#000" stroke-width="2"/>
<line x1="310.75" y1="1900" x2="336.75" y2="1900" stroke="#000" stroke-width="2"/>
<line x1="243.9" y1="1869.5" x2="322.7" y2="1869.5" stroke="#000" stroke-width="2.2"/>
<text x="255.53" y="1868.72" font-size="24.73" letter-spacing="5.01">***</text>
<text x="127" y="2130.5" font-size="27.2" transform="rotate(-90 127 2130.5)" letter-spacing="3.74">Total Glutathione</text>
<text x="188.77" y="2247.47" font-size="24.5" transform="rotate(-45 188.77 2247.47)" letter-spacing="4.78">HeLa</text>
<text x="222.69" y="2297.55" font-size="24.5" transform="rotate(-45 222.69 2297.55)" letter-spacing="4.78">HeLa/ddp</text>
<rect x="489" y="1921" width="55" height="239" fill="#000"/>
<rect x="571.5" y="1939.5" width="53.5" height="220.5" fill="#9c9ca0"/>
<line x1="476.5" y1="1832.1" x2="476.5" y2="2161.9" stroke="#000" stroke-width="3.8"/>
<line x1="465" y1="1834" x2="476.5" y2="1834" stroke="#000" stroke-width="3.8"/>
<line x1="465" y1="1916" x2="476.5" y2="1916" stroke="#000" stroke-width="3.8"/>
<line x1="465" y1="1998" x2="476.5" y2="1998" stroke="#000" stroke-width="3.8"/>
<line x1="465" y1="2079" x2="476.5" y2="2079" stroke="#000" stroke-width="3.8"/>
<line x1="465" y1="2160" x2="476.5" y2="2160" stroke="#000" stroke-width="3.8"/>
<text x="418.91" y="1844" font-size="24.6" letter-spacing="2.7">2.0</text>
<text x="418.6" y="1926" font-size="24.6" letter-spacing="2.7">1.5</text>
<text x="418.91" y="2008" font-size="24.6" letter-spacing="2.7">1.0</text>
<text x="418.6" y="2089" font-size="24.6" letter-spacing="2.7">0.5</text>
<text x="418.91" y="2170" font-size="24.6" letter-spacing="2.7">0.0</text>
<line x1="465" y1="2160" x2="640" y2="2160" stroke="#000" stroke-width="3.8"/>
<line x1="516" y1="2160" x2="516" y2="2172" stroke="#000" stroke-width="3.8"/>
<line x1="597.5" y1="2160" x2="597.5" y2="2172" stroke="#000" stroke-width="3.8"/>
<line x1="516.5" y1="1867" x2="516.5" y2="1921" stroke="#000" stroke-width="2"/>
<line x1="503.5" y1="1867" x2="529.5" y2="1867" stroke="#000" stroke-width="2"/>
<line x1="598.25" y1="1916" x2="598.25" y2="1962.5" stroke="#000" stroke-width="2"/>
<line x1="585.25" y1="1916" x2="611.25" y2="1916" stroke="#000" stroke-width="2"/>
<line x1="585.25" y1="1962.5" x2="611.25" y2="1962.5" stroke="#000" stroke-width="2"/>
<text x="399" y="2088.62" font-size="27.2" transform="rotate(-90 399 2088.62)" letter-spacing="4.67">GSH/GSSG</text>
<text x="465.27" y="2252.67" font-size="24.5" transform="rotate(-45 465.27 2252.67)" letter-spacing="4.78">HeLa</text>
<text x="496.69" y="2302.75" font-size="24.5" transform="rotate(-45 496.69 2302.75)" letter-spacing="4.78">HeLa/ddp</text>
<text x="965.18" y="1818.12" font-size="50.9" style="font-weight:normal" stroke="#000" stroke-width="1.9">H</text>
<rect x="1145" y="2158" width="51" height="68.3" fill="#000"/>
<rect x="1223" y="2069" width="50.5" height="157.3" fill="#000"/>
<rect x="1351" y="2063.5" width="51" height="162.8" fill="#9c9ca0"/>
<rect x="1428.5" y="1900.5" width="51" height="325.8" fill="#9c9ca0"/>
<line x1="1107" y1="1812.8" x2="1107" y2="2228.2" stroke="#000" stroke-width="3.8"/>
<line x1="1095.5" y1="1814.7" x2="1107" y2="1814.7" stroke="#000" stroke-width="3.8"/>
<line x1="1095.5" y1="1952" x2="1107" y2="1952" stroke="#000" stroke-width="3.8"/>
<line x1="1095.5" y1="2089.2" x2="1107" y2="2089.2" stroke="#000" stroke-width="3.8"/>
<line x1="1095.5" y1="2226.3" x2="1107" y2="2226.3" stroke="#000" stroke-width="3.8"/>
<text x="1074.82" y="1823.7" font-size="21.5">6</text>
<text x="1074.15" y="1961" font-size="21.5">4</text>
<text x="1074.91" y="2098.2" font-size="21.5">2</text>
<text x="1074.93" y="2235.3" font-size="21.5">0</text>
<line x1="1095.5" y1="2226.3" x2="1520" y2="2226.3" stroke="#000" stroke-width="3.8"/>
<line x1="1209.5" y1="2226.3" x2="1209.5" y2="2238" stroke="#000" stroke-width="3.8"/>
<line x1="1415.5" y1="2226.3" x2="1415.5" y2="2238" stroke="#000" stroke-width="3.8"/>
<line x1="1170.5" y1="2151" x2="1170.5" y2="2158" stroke="#000" stroke-width="1.8"/>
<line x1="1159.5" y1="2151" x2="1181.5" y2="2151" stroke="#000" stroke-width="1.8"/>
<line x1="1248" y1="2063.5" x2="1248" y2="2069" stroke="#000" stroke-width="1.8"/>
<line x1="1237" y1="2063.5" x2="1259" y2="2063.5" stroke="#000" stroke-width="1.8"/>
<line x1="1376.5" y1="2042" x2="1376.5" y2="2085" stroke="#000" stroke-width="1.8"/>
<line x1="1365.5" y1="2042" x2="1387.5" y2="2042" stroke="#000" stroke-width="1.8"/>
<line x1="1365.5" y1="2085" x2="1387.5" y2="2085" stroke="#000" stroke-width="1.8"/>
<line x1="1454" y1="1889.5" x2="1454" y2="1911.5" stroke="#000" stroke-width="1.8"/>
<line x1="1443" y1="1889.5" x2="1465" y2="1889.5" stroke="#000" stroke-width="1.8"/>
<line x1="1443" y1="1911.5" x2="1465" y2="1911.5" stroke="#000" stroke-width="1.8"/>
<line x1="1181.1" y1="2042.2" x2="1250.9" y2="2042.2" stroke="#000" stroke-width="2"/>
<line x1="1378.9" y1="1875.6" x2="1454.8" y2="1875.6" stroke="#000" stroke-width="2"/>
<text x="1196.03" y="2044.21" font-size="23.12" letter-spacing="4.95">***</text>
<text x="1394.03" y="1876.46" font-size="23.92" letter-spacing="4.78">***</text>
<rect x="1132.1" y="1805.1" width="44" height="21" fill="#000"/>
<text x="1199.33" y="1827.5" font-size="25" letter-spacing="5.47">HeLa</text>
<rect x="1303" y="1807.5" width="44" height="21" fill="#9c9ca0"/>
<text x="1370.33" y="1830" font-size="25" letter-spacing="5.4">HeLa/ddp</text>
<text x="1055.9" y="2201.66" font-size="24.8" transform="rotate(-90 1055.9 2201.66)" letter-spacing="4.62">Relative DCFDA signal</text>
<text x="1067.34" y="2281" font-size="23.5">G</text>
<text x="1096.56" y="2281" font-size="23.5" letter-spacing="4.71">ln</text>
<text x="1169.98" y="2281" font-size="24">+</text>
<text x="1251.02" y="2281" font-size="24">-</text>
<text x="1373.98" y="2281" font-size="24">+</text>
<text x="1456.52" y="2281" font-size="24">-</text>
</svg></body></html>
